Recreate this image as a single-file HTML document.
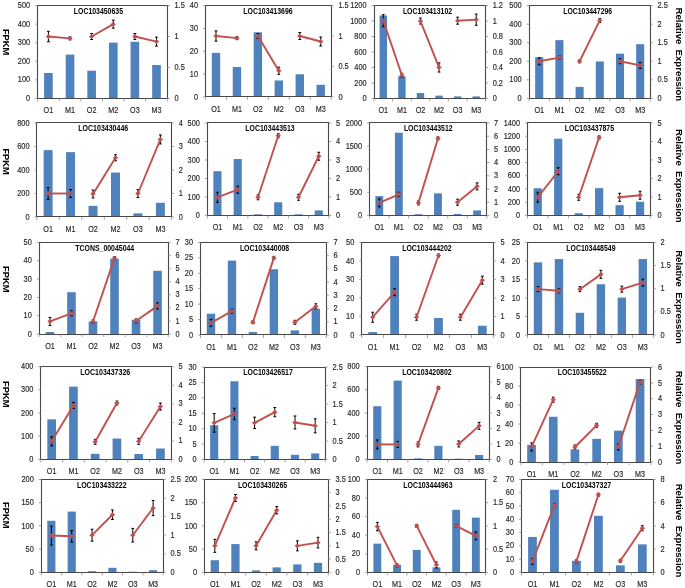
<!DOCTYPE html><html><head><meta charset="utf-8"><style>html,body{margin:0;padding:0;background:#fff;width:685px;height:588px;overflow:hidden}
svg{display:block;filter:blur(0.3px)}
text{font-family:"Liberation Sans",sans-serif;fill:#2a2a2a}
.t{font-size:8.6px;stroke:#2a2a2a;stroke-width:0.18px}
.x{font-size:8.9px;stroke:#2a2a2a;stroke-width:0.18px}
.ti{font-size:8.3px;font-weight:bold;fill:#000}
.yl{font-size:9.6px;font-weight:bold;fill:#000;white-space:pre}
</style></head><body><svg width="685" height="588" viewBox="0 0 685 588" shape-rendering="auto"><g><rect x="44.09" y="72.97" width="8.65" height="25.43" fill="#4f81bd"/><rect x="65.70" y="54.60" width="8.65" height="43.80" fill="#4f81bd"/><rect x="87.32" y="70.75" width="8.65" height="27.65" fill="#4f81bd"/><rect x="108.94" y="42.61" width="8.65" height="55.79" fill="#4f81bd"/><rect x="130.55" y="41.79" width="8.65" height="56.61" fill="#4f81bd"/><rect x="152.17" y="64.99" width="8.65" height="33.41" fill="#4f81bd"/><path d="M37.50 98.50V5.50H167.50V98.50Z" fill="none" stroke="#484848" stroke-width="1.1"/><path d="M35.10 98.40H37.60" stroke="#8c8c8c" stroke-width="0.8"/><text transform="translate(30.20 101.00) scale(0.86 1)" text-anchor="end" class="t">0</text><path d="M35.10 79.84H37.60" stroke="#8c8c8c" stroke-width="0.8"/><text transform="translate(30.20 82.44) scale(0.86 1)" text-anchor="end" class="t">100</text><path d="M35.10 61.28H37.60" stroke="#8c8c8c" stroke-width="0.8"/><text transform="translate(30.20 63.88) scale(0.86 1)" text-anchor="end" class="t">200</text><path d="M35.10 42.72H37.60" stroke="#8c8c8c" stroke-width="0.8"/><text transform="translate(30.20 45.32) scale(0.86 1)" text-anchor="end" class="t">300</text><path d="M35.10 24.16H37.60" stroke="#8c8c8c" stroke-width="0.8"/><text transform="translate(30.20 26.76) scale(0.86 1)" text-anchor="end" class="t">400</text><path d="M35.10 5.60H37.60" stroke="#8c8c8c" stroke-width="0.8"/><text transform="translate(30.20 8.20) scale(0.86 1)" text-anchor="end" class="t">500</text><path d="M167.30 98.40H169.80" stroke="#8c8c8c" stroke-width="0.8"/><text transform="translate(174.50 101.00) scale(0.86 1)" class="t">0</text><path d="M167.30 67.47H169.80" stroke="#8c8c8c" stroke-width="0.8"/><text transform="translate(174.50 70.07) scale(0.86 1)" class="t">0.5</text><path d="M167.30 36.53H169.80" stroke="#8c8c8c" stroke-width="0.8"/><text transform="translate(174.50 39.13) scale(0.86 1)" class="t">1</text><path d="M167.30 5.60H169.80" stroke="#8c8c8c" stroke-width="0.8"/><text transform="translate(174.50 8.20) scale(0.86 1)" class="t">1.5</text><path d="M37.60 98.40V101.40" stroke="#8c8c8c" stroke-width="0.8"/><path d="M59.22 98.40V101.40" stroke="#8c8c8c" stroke-width="0.8"/><path d="M80.83 98.40V101.40" stroke="#8c8c8c" stroke-width="0.8"/><path d="M102.45 98.40V101.40" stroke="#8c8c8c" stroke-width="0.8"/><path d="M124.07 98.40V101.40" stroke="#8c8c8c" stroke-width="0.8"/><path d="M145.68 98.40V101.40" stroke="#8c8c8c" stroke-width="0.8"/><path d="M167.30 98.40V101.40" stroke="#8c8c8c" stroke-width="0.8"/><text transform="translate(48.41 113.10) scale(0.81 1)" text-anchor="middle" class="x">O1</text><text transform="translate(70.03 113.10) scale(0.81 1)" text-anchor="middle" class="x">M1</text><text transform="translate(91.64 113.10) scale(0.81 1)" text-anchor="middle" class="x">O2</text><text transform="translate(113.26 113.10) scale(0.81 1)" text-anchor="middle" class="x">M2</text><text transform="translate(134.88 113.10) scale(0.81 1)" text-anchor="middle" class="x">O3</text><text transform="translate(156.49 113.10) scale(0.81 1)" text-anchor="middle" class="x">M3</text><text x="73.80" y="13.70" class="ti" textLength="49.20" lengthAdjust="spacingAndGlyphs">LOC103450635</text><path d="M48.41 31.33V41.73M47.01 31.33H49.81M47.01 41.73H49.81" stroke="#000" stroke-width="1"/><path d="M70.03 36.89V39.89M68.62 36.89H71.43M68.62 39.89H71.43" stroke="#000" stroke-width="1"/><path d="M91.64 33.53V39.53M90.24 33.53H93.04M90.24 39.53H93.04" stroke="#000" stroke-width="1"/><path d="M113.26 20.16V28.16M111.86 20.16H114.66M111.86 28.16H114.66" stroke="#000" stroke-width="1"/><path d="M134.88 33.53V39.53M133.48 33.53H136.28M133.48 39.53H136.28" stroke="#000" stroke-width="1"/><path d="M156.49 37.11V46.11M155.09 37.11H157.89M155.09 46.11H157.89" stroke="#000" stroke-width="1"/><path d="M48.41 36.53L70.03 38.39" stroke="#c0504d" stroke-width="1.9" fill="none"/><path d="M91.64 36.53L113.26 24.16" stroke="#c0504d" stroke-width="1.9" fill="none"/><path d="M134.88 36.53L156.49 41.61" stroke="#c0504d" stroke-width="1.9" fill="none"/><path d="M45.71 36.53L48.41 34.13L51.11 36.53L48.41 38.93Z" fill="#c0504d"/><path d="M67.33 38.39L70.03 35.99L72.73 38.39L70.03 40.79Z" fill="#c0504d"/><path d="M88.94 36.53L91.64 34.13L94.34 36.53L91.64 38.93Z" fill="#c0504d"/><path d="M110.56 24.16L113.26 21.76L115.96 24.16L113.26 26.56Z" fill="#c0504d"/><path d="M132.18 36.53L134.88 34.13L137.58 36.53L134.88 38.93Z" fill="#c0504d"/><path d="M153.79 41.61L156.49 39.21L159.19 41.61L156.49 44.01Z" fill="#c0504d"/></g><g><rect x="211.78" y="52.85" width="8.38" height="44.05" fill="#4f81bd"/><rect x="232.74" y="67.00" width="8.38" height="29.90" fill="#4f81bd"/><rect x="253.69" y="32.31" width="8.38" height="64.59" fill="#4f81bd"/><rect x="274.63" y="80.47" width="8.38" height="16.43" fill="#4f81bd"/><rect x="295.58" y="74.30" width="8.38" height="22.60" fill="#4f81bd"/><rect x="316.54" y="84.80" width="8.38" height="12.10" fill="#4f81bd"/><path d="M205.50 96.50V5.50H331.50V96.50Z" fill="none" stroke="#484848" stroke-width="1.1"/><path d="M203.00 96.90H205.50" stroke="#8c8c8c" stroke-width="0.8"/><text transform="translate(198.10 99.50) scale(0.86 1)" text-anchor="end" class="t">0</text><path d="M203.00 74.08H205.50" stroke="#8c8c8c" stroke-width="0.8"/><text transform="translate(198.10 76.67) scale(0.86 1)" text-anchor="end" class="t">10</text><path d="M203.00 51.25H205.50" stroke="#8c8c8c" stroke-width="0.8"/><text transform="translate(198.10 53.85) scale(0.86 1)" text-anchor="end" class="t">20</text><path d="M203.00 28.42H205.50" stroke="#8c8c8c" stroke-width="0.8"/><text transform="translate(198.10 31.02) scale(0.86 1)" text-anchor="end" class="t">30</text><path d="M203.00 5.60H205.50" stroke="#8c8c8c" stroke-width="0.8"/><text transform="translate(198.10 8.20) scale(0.86 1)" text-anchor="end" class="t">40</text><path d="M331.20 96.90H333.70" stroke="#8c8c8c" stroke-width="0.8"/><text transform="translate(338.40 99.50) scale(0.86 1)" class="t">0</text><path d="M331.20 66.47H333.70" stroke="#8c8c8c" stroke-width="0.8"/><text transform="translate(338.40 69.07) scale(0.86 1)" class="t">0.5</text><path d="M331.20 36.03H333.70" stroke="#8c8c8c" stroke-width="0.8"/><text transform="translate(338.40 38.63) scale(0.86 1)" class="t">1</text><path d="M331.20 5.60H333.70" stroke="#8c8c8c" stroke-width="0.8"/><text transform="translate(338.40 8.20) scale(0.86 1)" class="t">1.5</text><path d="M205.50 96.90V99.90" stroke="#8c8c8c" stroke-width="0.8"/><path d="M226.45 96.90V99.90" stroke="#8c8c8c" stroke-width="0.8"/><path d="M247.40 96.90V99.90" stroke="#8c8c8c" stroke-width="0.8"/><path d="M268.35 96.90V99.90" stroke="#8c8c8c" stroke-width="0.8"/><path d="M289.30 96.90V99.90" stroke="#8c8c8c" stroke-width="0.8"/><path d="M310.25 96.90V99.90" stroke="#8c8c8c" stroke-width="0.8"/><path d="M331.20 96.90V99.90" stroke="#8c8c8c" stroke-width="0.8"/><text transform="translate(215.97 111.60) scale(0.81 1)" text-anchor="middle" class="x">O1</text><text transform="translate(236.93 111.60) scale(0.81 1)" text-anchor="middle" class="x">M1</text><text transform="translate(257.88 111.60) scale(0.81 1)" text-anchor="middle" class="x">O2</text><text transform="translate(278.82 111.60) scale(0.81 1)" text-anchor="middle" class="x">M2</text><text transform="translate(299.77 111.60) scale(0.81 1)" text-anchor="middle" class="x">O3</text><text transform="translate(320.73 111.60) scale(0.81 1)" text-anchor="middle" class="x">M3</text><text x="243.30" y="13.70" class="ti" textLength="49.30" lengthAdjust="spacingAndGlyphs">LOC103413696</text><path d="M215.97 30.83V41.23M214.57 30.83H217.38M214.57 41.23H217.38" stroke="#000" stroke-width="1"/><path d="M236.93 36.60V39.60M235.53 36.60H238.33M235.53 39.60H238.33" stroke="#000" stroke-width="1"/><path d="M257.88 33.53V38.53M256.48 33.53H259.27M256.48 38.53H259.27" stroke="#000" stroke-width="1"/><path d="M278.82 67.13V74.33M277.43 67.13H280.22M277.43 74.33H280.22" stroke="#000" stroke-width="1"/><path d="M299.77 32.53V39.53M298.38 32.53H301.17M298.38 39.53H301.17" stroke="#000" stroke-width="1"/><path d="M320.73 37.01V46.01M319.33 37.01H322.12M319.33 46.01H322.12" stroke="#000" stroke-width="1"/><path d="M215.97 36.03L236.93 38.10" stroke="#c0504d" stroke-width="1.9" fill="none"/><path d="M257.88 36.03L278.82 70.73" stroke="#c0504d" stroke-width="1.9" fill="none"/><path d="M299.77 36.03L320.73 41.51" stroke="#c0504d" stroke-width="1.9" fill="none"/><path d="M213.28 36.03L215.97 33.63L218.67 36.03L215.97 38.43Z" fill="#c0504d"/><path d="M234.23 38.10L236.93 35.70L239.62 38.10L236.93 40.50Z" fill="#c0504d"/><path d="M255.18 36.03L257.88 33.63L260.57 36.03L257.88 38.43Z" fill="#c0504d"/><path d="M276.12 70.73L278.82 68.33L281.52 70.73L278.82 73.13Z" fill="#c0504d"/><path d="M297.07 36.03L299.77 33.63L302.47 36.03L299.77 38.43Z" fill="#c0504d"/><path d="M318.03 41.51L320.73 39.11L323.43 41.51L320.73 43.91Z" fill="#c0504d"/></g><g><rect x="379.58" y="15.50" width="7.43" height="82.90" fill="#4f81bd"/><rect x="398.16" y="76.28" width="7.43" height="22.12" fill="#4f81bd"/><rect x="416.74" y="92.99" width="7.43" height="5.41" fill="#4f81bd"/><rect x="435.32" y="95.62" width="7.43" height="2.78" fill="#4f81bd"/><rect x="453.91" y="96.39" width="7.43" height="2.01" fill="#4f81bd"/><rect x="472.49" y="96.39" width="7.43" height="2.01" fill="#4f81bd"/><path d="M374.50 98.50V5.50H485.50V98.50Z" fill="none" stroke="#484848" stroke-width="1.1"/><path d="M371.50 98.40H374.00" stroke="#8c8c8c" stroke-width="0.8"/><text transform="translate(366.60 101.00) scale(0.86 1)" text-anchor="end" class="t">0</text><path d="M371.50 82.93H374.00" stroke="#8c8c8c" stroke-width="0.8"/><text transform="translate(366.60 85.53) scale(0.86 1)" text-anchor="end" class="t">200</text><path d="M371.50 67.47H374.00" stroke="#8c8c8c" stroke-width="0.8"/><text transform="translate(366.60 70.07) scale(0.86 1)" text-anchor="end" class="t">400</text><path d="M371.50 52.00H374.00" stroke="#8c8c8c" stroke-width="0.8"/><text transform="translate(366.60 54.60) scale(0.86 1)" text-anchor="end" class="t">600</text><path d="M371.50 36.53H374.00" stroke="#8c8c8c" stroke-width="0.8"/><text transform="translate(366.60 39.13) scale(0.86 1)" text-anchor="end" class="t">800</text><path d="M371.50 21.07H374.00" stroke="#8c8c8c" stroke-width="0.8"/><text transform="translate(366.60 23.67) scale(0.86 1)" text-anchor="end" class="t">1000</text><path d="M371.50 5.60H374.00" stroke="#8c8c8c" stroke-width="0.8"/><text transform="translate(366.60 8.20) scale(0.86 1)" text-anchor="end" class="t">1200</text><path d="M485.50 98.40H488.00" stroke="#8c8c8c" stroke-width="0.8"/><text transform="translate(492.70 101.00) scale(0.86 1)" class="t">0</text><path d="M485.50 82.93H488.00" stroke="#8c8c8c" stroke-width="0.8"/><text transform="translate(492.70 85.53) scale(0.86 1)" class="t">0.2</text><path d="M485.50 67.47H488.00" stroke="#8c8c8c" stroke-width="0.8"/><text transform="translate(492.70 70.07) scale(0.86 1)" class="t">0.4</text><path d="M485.50 52.00H488.00" stroke="#8c8c8c" stroke-width="0.8"/><text transform="translate(492.70 54.60) scale(0.86 1)" class="t">0.6</text><path d="M485.50 36.53H488.00" stroke="#8c8c8c" stroke-width="0.8"/><text transform="translate(492.70 39.13) scale(0.86 1)" class="t">0.8</text><path d="M485.50 21.07H488.00" stroke="#8c8c8c" stroke-width="0.8"/><text transform="translate(492.70 23.67) scale(0.86 1)" class="t">1</text><path d="M485.50 5.60H488.00" stroke="#8c8c8c" stroke-width="0.8"/><text transform="translate(492.70 8.20) scale(0.86 1)" class="t">1.2</text><path d="M374.00 98.40V101.40" stroke="#8c8c8c" stroke-width="0.8"/><path d="M392.58 98.40V101.40" stroke="#8c8c8c" stroke-width="0.8"/><path d="M411.17 98.40V101.40" stroke="#8c8c8c" stroke-width="0.8"/><path d="M429.75 98.40V101.40" stroke="#8c8c8c" stroke-width="0.8"/><path d="M448.33 98.40V101.40" stroke="#8c8c8c" stroke-width="0.8"/><path d="M466.92 98.40V101.40" stroke="#8c8c8c" stroke-width="0.8"/><path d="M485.50 98.40V101.40" stroke="#8c8c8c" stroke-width="0.8"/><text transform="translate(383.29 113.10) scale(0.81 1)" text-anchor="middle" class="x">O1</text><text transform="translate(401.88 113.10) scale(0.81 1)" text-anchor="middle" class="x">M1</text><text transform="translate(420.46 113.10) scale(0.81 1)" text-anchor="middle" class="x">O2</text><text transform="translate(439.04 113.10) scale(0.81 1)" text-anchor="middle" class="x">M2</text><text transform="translate(457.62 113.10) scale(0.81 1)" text-anchor="middle" class="x">O3</text><text transform="translate(476.21 113.10) scale(0.81 1)" text-anchor="middle" class="x">M3</text><text x="402.90" y="13.70" class="ti" textLength="49.20" lengthAdjust="spacingAndGlyphs">LOC103413102</text><path d="M383.29 14.68V26.68M381.89 14.68H384.69M381.89 26.68H384.69" stroke="#000" stroke-width="1"/><path d="M401.88 73.28V77.28M400.48 73.28H403.27M400.48 77.28H403.27" stroke="#000" stroke-width="1"/><path d="M420.46 18.07V24.07M419.06 18.07H421.86M419.06 24.07H421.86" stroke="#000" stroke-width="1"/><path d="M439.04 62.87V72.07M437.64 62.87H440.44M437.64 72.07H440.44" stroke="#000" stroke-width="1"/><path d="M457.62 17.18V24.18M456.23 17.18H459.02M456.23 24.18H459.02" stroke="#000" stroke-width="1"/><path d="M476.21 14.07V25.27M474.81 14.07H477.61M474.81 25.27H477.61" stroke="#000" stroke-width="1"/><path d="M383.29 20.68L401.88 75.28" stroke="#c0504d" stroke-width="1.9" fill="none"/><path d="M420.46 21.07L439.04 67.47" stroke="#c0504d" stroke-width="1.9" fill="none"/><path d="M457.62 20.68L476.21 19.67" stroke="#c0504d" stroke-width="1.9" fill="none"/><path d="M380.59 20.68L383.29 18.28L385.99 20.68L383.29 23.08Z" fill="#c0504d"/><path d="M399.18 75.28L401.88 72.88L404.57 75.28L401.88 77.68Z" fill="#c0504d"/><path d="M417.76 21.07L420.46 18.67L423.16 21.07L420.46 23.47Z" fill="#c0504d"/><path d="M436.34 67.47L439.04 65.07L441.74 67.47L439.04 69.87Z" fill="#c0504d"/><path d="M454.93 20.68L457.62 18.28L460.32 20.68L457.62 23.08Z" fill="#c0504d"/><path d="M473.51 19.67L476.21 17.27L478.91 19.67L476.21 22.07Z" fill="#c0504d"/></g><g><rect x="535.16" y="57.20" width="8.08" height="41.20" fill="#4f81bd"/><rect x="555.36" y="40.12" width="8.08" height="58.28" fill="#4f81bd"/><rect x="575.56" y="86.89" width="8.08" height="11.51" fill="#4f81bd"/><rect x="595.76" y="61.47" width="8.08" height="36.93" fill="#4f81bd"/><rect x="615.96" y="53.67" width="8.08" height="44.73" fill="#4f81bd"/><rect x="636.16" y="44.20" width="8.08" height="54.20" fill="#4f81bd"/><path d="M529.50 98.50V5.50H650.50V98.50Z" fill="none" stroke="#484848" stroke-width="1.1"/><path d="M526.60 98.40H529.10" stroke="#8c8c8c" stroke-width="0.8"/><text transform="translate(521.70 101.00) scale(0.86 1)" text-anchor="end" class="t">0</text><path d="M526.60 79.84H529.10" stroke="#8c8c8c" stroke-width="0.8"/><text transform="translate(521.70 82.44) scale(0.86 1)" text-anchor="end" class="t">100</text><path d="M526.60 61.28H529.10" stroke="#8c8c8c" stroke-width="0.8"/><text transform="translate(521.70 63.88) scale(0.86 1)" text-anchor="end" class="t">200</text><path d="M526.60 42.72H529.10" stroke="#8c8c8c" stroke-width="0.8"/><text transform="translate(521.70 45.32) scale(0.86 1)" text-anchor="end" class="t">300</text><path d="M526.60 24.16H529.10" stroke="#8c8c8c" stroke-width="0.8"/><text transform="translate(521.70 26.76) scale(0.86 1)" text-anchor="end" class="t">400</text><path d="M526.60 5.60H529.10" stroke="#8c8c8c" stroke-width="0.8"/><text transform="translate(521.70 8.20) scale(0.86 1)" text-anchor="end" class="t">500</text><path d="M650.30 98.40H652.80" stroke="#8c8c8c" stroke-width="0.8"/><text transform="translate(657.50 101.00) scale(0.86 1)" class="t">0</text><path d="M650.30 79.84H652.80" stroke="#8c8c8c" stroke-width="0.8"/><text transform="translate(657.50 82.44) scale(0.86 1)" class="t">0.5</text><path d="M650.30 61.28H652.80" stroke="#8c8c8c" stroke-width="0.8"/><text transform="translate(657.50 63.88) scale(0.86 1)" class="t">1</text><path d="M650.30 42.72H652.80" stroke="#8c8c8c" stroke-width="0.8"/><text transform="translate(657.50 45.32) scale(0.86 1)" class="t">1.5</text><path d="M650.30 24.16H652.80" stroke="#8c8c8c" stroke-width="0.8"/><text transform="translate(657.50 26.76) scale(0.86 1)" class="t">2</text><path d="M650.30 5.60H652.80" stroke="#8c8c8c" stroke-width="0.8"/><text transform="translate(657.50 8.20) scale(0.86 1)" class="t">2.5</text><path d="M529.10 98.40V101.40" stroke="#8c8c8c" stroke-width="0.8"/><path d="M549.30 98.40V101.40" stroke="#8c8c8c" stroke-width="0.8"/><path d="M569.50 98.40V101.40" stroke="#8c8c8c" stroke-width="0.8"/><path d="M589.70 98.40V101.40" stroke="#8c8c8c" stroke-width="0.8"/><path d="M609.90 98.40V101.40" stroke="#8c8c8c" stroke-width="0.8"/><path d="M630.10 98.40V101.40" stroke="#8c8c8c" stroke-width="0.8"/><path d="M650.30 98.40V101.40" stroke="#8c8c8c" stroke-width="0.8"/><text transform="translate(539.20 113.10) scale(0.81 1)" text-anchor="middle" class="x">O1</text><text transform="translate(559.40 113.10) scale(0.81 1)" text-anchor="middle" class="x">M1</text><text transform="translate(579.60 113.10) scale(0.81 1)" text-anchor="middle" class="x">O2</text><text transform="translate(599.80 113.10) scale(0.81 1)" text-anchor="middle" class="x">M2</text><text transform="translate(620.00 113.10) scale(0.81 1)" text-anchor="middle" class="x">O3</text><text transform="translate(640.20 113.10) scale(0.81 1)" text-anchor="middle" class="x">M3</text><text x="563.30" y="13.70" class="ti" textLength="48.80" lengthAdjust="spacingAndGlyphs">LOC103447296</text><path d="M539.20 57.78V64.78M537.80 57.78H540.60M537.80 64.78H540.60" stroke="#000" stroke-width="1"/><path d="M559.40 56.07V59.07M558.00 56.07H560.80M558.00 59.07H560.80" stroke="#000" stroke-width="1"/><path d="M579.60 59.78V62.78M578.20 59.78H581.00M578.20 62.78H581.00" stroke="#000" stroke-width="1"/><path d="M599.80 18.45V22.45M598.40 18.45H601.20M598.40 22.45H601.20" stroke="#000" stroke-width="1"/><path d="M620.00 58.78V63.78M618.60 58.78H621.40M618.60 63.78H621.40" stroke="#000" stroke-width="1"/><path d="M640.20 62.36V68.36M638.80 62.36H641.60M638.80 68.36H641.60" stroke="#000" stroke-width="1"/><path d="M539.20 61.28L559.40 57.57" stroke="#c0504d" stroke-width="1.9" fill="none"/><path d="M579.60 61.28L599.80 20.45" stroke="#c0504d" stroke-width="1.9" fill="none"/><path d="M620.00 61.28L640.20 65.36" stroke="#c0504d" stroke-width="1.9" fill="none"/><path d="M536.50 61.28L539.20 58.88L541.90 61.28L539.20 63.68Z" fill="#c0504d"/><path d="M556.70 57.57L559.40 55.17L562.10 57.57L559.40 59.97Z" fill="#c0504d"/><path d="M576.90 61.28L579.60 58.88L582.30 61.28L579.60 63.68Z" fill="#c0504d"/><path d="M597.10 20.45L599.80 18.05L602.50 20.45L599.80 22.85Z" fill="#c0504d"/><path d="M617.30 61.28L620.00 58.88L622.70 61.28L620.00 63.68Z" fill="#c0504d"/><path d="M637.50 65.36L640.20 62.96L642.90 65.36L640.20 67.76Z" fill="#c0504d"/></g><g><rect x="43.63" y="150.14" width="8.98" height="66.86" fill="#4f81bd"/><rect x="66.08" y="152.14" width="8.98" height="64.86" fill="#4f81bd"/><rect x="88.54" y="205.84" width="8.98" height="11.16" fill="#4f81bd"/><rect x="110.98" y="172.59" width="8.98" height="44.41" fill="#4f81bd"/><rect x="133.43" y="213.36" width="8.98" height="3.64" fill="#4f81bd"/><rect x="155.88" y="202.78" width="8.98" height="14.22" fill="#4f81bd"/><path d="M36.50 216.50V122.50H171.50V216.50Z" fill="none" stroke="#484848" stroke-width="1.1"/><path d="M34.40 217.00H36.90" stroke="#8c8c8c" stroke-width="0.8"/><text transform="translate(29.50 219.60) scale(0.86 1)" text-anchor="end" class="t">0</text><path d="M34.40 193.50H36.90" stroke="#8c8c8c" stroke-width="0.8"/><text transform="translate(29.50 196.10) scale(0.86 1)" text-anchor="end" class="t">200</text><path d="M34.40 170.00H36.90" stroke="#8c8c8c" stroke-width="0.8"/><text transform="translate(29.50 172.60) scale(0.86 1)" text-anchor="end" class="t">400</text><path d="M34.40 146.50H36.90" stroke="#8c8c8c" stroke-width="0.8"/><text transform="translate(29.50 149.10) scale(0.86 1)" text-anchor="end" class="t">600</text><path d="M34.40 123.00H36.90" stroke="#8c8c8c" stroke-width="0.8"/><text transform="translate(29.50 125.60) scale(0.86 1)" text-anchor="end" class="t">800</text><path d="M171.60 217.00H174.10" stroke="#8c8c8c" stroke-width="0.8"/><text transform="translate(178.80 219.60) scale(0.86 1)" class="t">0</text><path d="M171.60 193.50H174.10" stroke="#8c8c8c" stroke-width="0.8"/><text transform="translate(178.80 196.10) scale(0.86 1)" class="t">1</text><path d="M171.60 170.00H174.10" stroke="#8c8c8c" stroke-width="0.8"/><text transform="translate(178.80 172.60) scale(0.86 1)" class="t">2</text><path d="M171.60 146.50H174.10" stroke="#8c8c8c" stroke-width="0.8"/><text transform="translate(178.80 149.10) scale(0.86 1)" class="t">3</text><path d="M171.60 123.00H174.10" stroke="#8c8c8c" stroke-width="0.8"/><text transform="translate(178.80 125.60) scale(0.86 1)" class="t">4</text><path d="M36.90 217.00V220.00" stroke="#8c8c8c" stroke-width="0.8"/><path d="M59.35 217.00V220.00" stroke="#8c8c8c" stroke-width="0.8"/><path d="M81.80 217.00V220.00" stroke="#8c8c8c" stroke-width="0.8"/><path d="M104.25 217.00V220.00" stroke="#8c8c8c" stroke-width="0.8"/><path d="M126.70 217.00V220.00" stroke="#8c8c8c" stroke-width="0.8"/><path d="M149.15 217.00V220.00" stroke="#8c8c8c" stroke-width="0.8"/><path d="M171.60 217.00V220.00" stroke="#8c8c8c" stroke-width="0.8"/><text transform="translate(48.12 231.70) scale(0.81 1)" text-anchor="middle" class="x">O1</text><text transform="translate(70.57 231.70) scale(0.81 1)" text-anchor="middle" class="x">M1</text><text transform="translate(93.03 231.70) scale(0.81 1)" text-anchor="middle" class="x">O2</text><text transform="translate(115.47 231.70) scale(0.81 1)" text-anchor="middle" class="x">M2</text><text transform="translate(137.92 231.70) scale(0.81 1)" text-anchor="middle" class="x">O3</text><text transform="translate(160.38 231.70) scale(0.81 1)" text-anchor="middle" class="x">M3</text><text x="78.30" y="131.10" class="ti" textLength="49.90" lengthAdjust="spacingAndGlyphs">LOC103430446</text><path d="M48.12 187.50V199.50M46.73 187.50H49.52M46.73 199.50H49.52" stroke="#000" stroke-width="1"/><path d="M70.57 189.50V197.50M69.17 189.50H71.97M69.17 197.50H71.97" stroke="#000" stroke-width="1"/><path d="M93.03 189.97V197.97M91.62 189.97H94.43M91.62 197.97H94.43" stroke="#000" stroke-width="1"/><path d="M115.47 154.78V160.78M114.07 154.78H116.88M114.07 160.78H116.88" stroke="#000" stroke-width="1"/><path d="M137.92 189.50V197.50M136.52 189.50H139.32M136.52 197.50H139.32" stroke="#000" stroke-width="1"/><path d="M160.38 134.95V143.95M158.97 134.95H161.78M158.97 143.95H161.78" stroke="#000" stroke-width="1"/><path d="M48.12 193.50L70.57 193.50" stroke="#c0504d" stroke-width="1.9" fill="none"/><path d="M93.03 193.97L115.47 157.78" stroke="#c0504d" stroke-width="1.9" fill="none"/><path d="M137.92 193.50L160.38 139.45" stroke="#c0504d" stroke-width="1.9" fill="none"/><path d="M45.42 193.50L48.12 191.10L50.83 193.50L48.12 195.90Z" fill="#c0504d"/><path d="M67.87 193.50L70.57 191.10L73.27 193.50L70.57 195.90Z" fill="#c0504d"/><path d="M90.33 193.97L93.03 191.57L95.73 193.97L93.03 196.37Z" fill="#c0504d"/><path d="M112.77 157.78L115.47 155.38L118.17 157.78L115.47 160.18Z" fill="#c0504d"/><path d="M135.22 193.50L137.92 191.10L140.62 193.50L137.92 195.90Z" fill="#c0504d"/><path d="M157.68 139.45L160.38 137.05L163.07 139.45L160.38 141.85Z" fill="#c0504d"/></g><g><rect x="213.38" y="171.23" width="8.11" height="44.17" fill="#4f81bd"/><rect x="233.65" y="159.04" width="8.11" height="56.36" fill="#4f81bd"/><rect x="253.91" y="214.29" width="8.11" height="1.11" fill="#4f81bd"/><rect x="274.18" y="202.28" width="8.11" height="13.12" fill="#4f81bd"/><rect x="294.45" y="214.29" width="8.11" height="1.11" fill="#4f81bd"/><rect x="314.71" y="210.41" width="8.11" height="4.99" fill="#4f81bd"/><path d="M207.50 215.50V122.50H328.50V215.50Z" fill="none" stroke="#484848" stroke-width="1.1"/><path d="M204.80 215.40H207.30" stroke="#8c8c8c" stroke-width="0.8"/><text transform="translate(199.90 218.00) scale(0.86 1)" text-anchor="end" class="t">0</text><path d="M204.80 196.92H207.30" stroke="#8c8c8c" stroke-width="0.8"/><text transform="translate(199.90 199.52) scale(0.86 1)" text-anchor="end" class="t">100</text><path d="M204.80 178.44H207.30" stroke="#8c8c8c" stroke-width="0.8"/><text transform="translate(199.90 181.04) scale(0.86 1)" text-anchor="end" class="t">200</text><path d="M204.80 159.96H207.30" stroke="#8c8c8c" stroke-width="0.8"/><text transform="translate(199.90 162.56) scale(0.86 1)" text-anchor="end" class="t">300</text><path d="M204.80 141.48H207.30" stroke="#8c8c8c" stroke-width="0.8"/><text transform="translate(199.90 144.08) scale(0.86 1)" text-anchor="end" class="t">400</text><path d="M204.80 123.00H207.30" stroke="#8c8c8c" stroke-width="0.8"/><text transform="translate(199.90 125.60) scale(0.86 1)" text-anchor="end" class="t">500</text><path d="M328.90 215.40H331.40" stroke="#8c8c8c" stroke-width="0.8"/><text transform="translate(336.10 218.00) scale(0.86 1)" class="t">0</text><path d="M328.90 196.92H331.40" stroke="#8c8c8c" stroke-width="0.8"/><text transform="translate(336.10 199.52) scale(0.86 1)" class="t">1</text><path d="M328.90 178.44H331.40" stroke="#8c8c8c" stroke-width="0.8"/><text transform="translate(336.10 181.04) scale(0.86 1)" class="t">2</text><path d="M328.90 159.96H331.40" stroke="#8c8c8c" stroke-width="0.8"/><text transform="translate(336.10 162.56) scale(0.86 1)" class="t">3</text><path d="M328.90 141.48H331.40" stroke="#8c8c8c" stroke-width="0.8"/><text transform="translate(336.10 144.08) scale(0.86 1)" class="t">4</text><path d="M328.90 123.00H331.40" stroke="#8c8c8c" stroke-width="0.8"/><text transform="translate(336.10 125.60) scale(0.86 1)" class="t">5</text><path d="M207.30 215.40V218.40" stroke="#8c8c8c" stroke-width="0.8"/><path d="M227.57 215.40V218.40" stroke="#8c8c8c" stroke-width="0.8"/><path d="M247.83 215.40V218.40" stroke="#8c8c8c" stroke-width="0.8"/><path d="M268.10 215.40V218.40" stroke="#8c8c8c" stroke-width="0.8"/><path d="M288.37 215.40V218.40" stroke="#8c8c8c" stroke-width="0.8"/><path d="M308.63 215.40V218.40" stroke="#8c8c8c" stroke-width="0.8"/><path d="M328.90 215.40V218.40" stroke="#8c8c8c" stroke-width="0.8"/><text transform="translate(217.43 230.10) scale(0.81 1)" text-anchor="middle" class="x">O1</text><text transform="translate(237.70 230.10) scale(0.81 1)" text-anchor="middle" class="x">M1</text><text transform="translate(257.97 230.10) scale(0.81 1)" text-anchor="middle" class="x">O2</text><text transform="translate(278.23 230.10) scale(0.81 1)" text-anchor="middle" class="x">M2</text><text transform="translate(298.50 230.10) scale(0.81 1)" text-anchor="middle" class="x">O3</text><text transform="translate(318.77 230.10) scale(0.81 1)" text-anchor="middle" class="x">M3</text><text x="245.30" y="131.10" class="ti" textLength="49.30" lengthAdjust="spacingAndGlyphs">LOC103443513</text><path d="M217.43 192.29V202.29M216.03 192.29H218.83M216.03 202.29H218.83" stroke="#000" stroke-width="1"/><path d="M237.70 186.21V193.21M236.30 186.21H239.10M236.30 193.21H239.10" stroke="#000" stroke-width="1"/><path d="M257.97 194.79V199.79M256.57 194.79H259.37M256.57 199.79H259.37" stroke="#000" stroke-width="1"/><path d="M278.23 133.75V137.75M276.83 133.75H279.63M276.83 137.75H279.63" stroke="#000" stroke-width="1"/><path d="M298.50 194.29V200.29M297.10 194.29H299.90M297.10 200.29H299.90" stroke="#000" stroke-width="1"/><path d="M318.77 152.26V160.26M317.37 152.26H320.17M317.37 160.26H320.17" stroke="#000" stroke-width="1"/><path d="M217.43 197.29L237.70 189.71" stroke="#c0504d" stroke-width="1.9" fill="none"/><path d="M257.97 197.29L278.23 135.75" stroke="#c0504d" stroke-width="1.9" fill="none"/><path d="M298.50 197.29L318.77 156.26" stroke="#c0504d" stroke-width="1.9" fill="none"/><path d="M214.73 197.29L217.43 194.89L220.13 197.29L217.43 199.69Z" fill="#c0504d"/><path d="M235.00 189.71L237.70 187.31L240.40 189.71L237.70 192.11Z" fill="#c0504d"/><path d="M255.27 197.29L257.97 194.89L260.67 197.29L257.97 199.69Z" fill="#c0504d"/><path d="M275.53 135.75L278.23 133.35L280.93 135.75L278.23 138.15Z" fill="#c0504d"/><path d="M295.80 197.29L298.50 194.89L301.20 197.29L298.50 199.69Z" fill="#c0504d"/><path d="M316.07 156.26L318.77 153.86L321.47 156.26L318.77 158.66Z" fill="#c0504d"/></g><g><rect x="375.37" y="196.09" width="7.83" height="19.31" fill="#4f81bd"/><rect x="394.94" y="132.70" width="7.83" height="82.70" fill="#4f81bd"/><rect x="414.50" y="214.20" width="7.83" height="1.20" fill="#4f81bd"/><rect x="434.07" y="193.32" width="7.83" height="22.08" fill="#4f81bd"/><rect x="453.64" y="214.01" width="7.83" height="1.39" fill="#4f81bd"/><rect x="473.20" y="210.41" width="7.83" height="4.99" fill="#4f81bd"/><path d="M369.50 215.50V122.50H486.50V215.50Z" fill="none" stroke="#484848" stroke-width="1.1"/><path d="M367.00 215.40H369.50" stroke="#8c8c8c" stroke-width="0.8"/><text transform="translate(362.10 218.00) scale(0.86 1)" text-anchor="end" class="t">0</text><path d="M367.00 192.30H369.50" stroke="#8c8c8c" stroke-width="0.8"/><text transform="translate(362.10 194.90) scale(0.86 1)" text-anchor="end" class="t">500</text><path d="M367.00 169.20H369.50" stroke="#8c8c8c" stroke-width="0.8"/><text transform="translate(362.10 171.80) scale(0.86 1)" text-anchor="end" class="t">1000</text><path d="M367.00 146.10H369.50" stroke="#8c8c8c" stroke-width="0.8"/><text transform="translate(362.10 148.70) scale(0.86 1)" text-anchor="end" class="t">1500</text><path d="M367.00 123.00H369.50" stroke="#8c8c8c" stroke-width="0.8"/><text transform="translate(362.10 125.60) scale(0.86 1)" text-anchor="end" class="t">2000</text><path d="M486.90 215.40H489.40" stroke="#8c8c8c" stroke-width="0.8"/><text transform="translate(494.10 218.00) scale(0.86 1)" class="t">0</text><path d="M486.90 202.20H489.40" stroke="#8c8c8c" stroke-width="0.8"/><text transform="translate(494.10 204.80) scale(0.86 1)" class="t">1</text><path d="M486.90 189.00H489.40" stroke="#8c8c8c" stroke-width="0.8"/><text transform="translate(494.10 191.60) scale(0.86 1)" class="t">2</text><path d="M486.90 175.80H489.40" stroke="#8c8c8c" stroke-width="0.8"/><text transform="translate(494.10 178.40) scale(0.86 1)" class="t">3</text><path d="M486.90 162.60H489.40" stroke="#8c8c8c" stroke-width="0.8"/><text transform="translate(494.10 165.20) scale(0.86 1)" class="t">4</text><path d="M486.90 149.40H489.40" stroke="#8c8c8c" stroke-width="0.8"/><text transform="translate(494.10 152.00) scale(0.86 1)" class="t">5</text><path d="M486.90 136.20H489.40" stroke="#8c8c8c" stroke-width="0.8"/><text transform="translate(494.10 138.80) scale(0.86 1)" class="t">6</text><path d="M486.90 123.00H489.40" stroke="#8c8c8c" stroke-width="0.8"/><text transform="translate(494.10 125.60) scale(0.86 1)" class="t">7</text><path d="M369.50 215.40V218.40" stroke="#8c8c8c" stroke-width="0.8"/><path d="M389.07 215.40V218.40" stroke="#8c8c8c" stroke-width="0.8"/><path d="M408.63 215.40V218.40" stroke="#8c8c8c" stroke-width="0.8"/><path d="M428.20 215.40V218.40" stroke="#8c8c8c" stroke-width="0.8"/><path d="M447.77 215.40V218.40" stroke="#8c8c8c" stroke-width="0.8"/><path d="M467.33 215.40V218.40" stroke="#8c8c8c" stroke-width="0.8"/><path d="M486.90 215.40V218.40" stroke="#8c8c8c" stroke-width="0.8"/><text transform="translate(379.28 230.10) scale(0.81 1)" text-anchor="middle" class="x">O1</text><text transform="translate(398.85 230.10) scale(0.81 1)" text-anchor="middle" class="x">M1</text><text transform="translate(418.42 230.10) scale(0.81 1)" text-anchor="middle" class="x">O2</text><text transform="translate(437.98 230.10) scale(0.81 1)" text-anchor="middle" class="x">M2</text><text transform="translate(457.55 230.10) scale(0.81 1)" text-anchor="middle" class="x">O3</text><text transform="translate(477.12 230.10) scale(0.81 1)" text-anchor="middle" class="x">M3</text><text x="403.90" y="131.10" class="ti" textLength="48.60" lengthAdjust="spacingAndGlyphs">LOC103443512</text><path d="M379.28 198.86V206.86M377.88 198.86H380.68M377.88 206.86H380.68" stroke="#000" stroke-width="1"/><path d="M398.85 192.28V196.28M397.45 192.28H400.25M397.45 196.28H400.25" stroke="#000" stroke-width="1"/><path d="M418.42 200.86V204.86M417.02 200.86H419.82M417.02 204.86H419.82" stroke="#000" stroke-width="1"/><path d="M437.98 136.94V139.94M436.58 136.94H439.38M436.58 139.94H439.38" stroke="#000" stroke-width="1"/><path d="M457.55 199.20V205.20M456.15 199.20H458.95M456.15 205.20H458.95" stroke="#000" stroke-width="1"/><path d="M477.12 182.86V189.86M475.72 182.86H478.52M475.72 189.86H478.52" stroke="#000" stroke-width="1"/><path d="M379.28 202.86L398.85 194.28" stroke="#c0504d" stroke-width="1.9" fill="none"/><path d="M418.42 202.86L437.98 138.44" stroke="#c0504d" stroke-width="1.9" fill="none"/><path d="M457.55 202.20L477.12 186.36" stroke="#c0504d" stroke-width="1.9" fill="none"/><path d="M376.58 202.86L379.28 200.46L381.98 202.86L379.28 205.26Z" fill="#c0504d"/><path d="M396.15 194.28L398.85 191.88L401.55 194.28L398.85 196.68Z" fill="#c0504d"/><path d="M415.72 202.86L418.42 200.46L421.12 202.86L418.42 205.26Z" fill="#c0504d"/><path d="M435.28 138.44L437.98 136.04L440.68 138.44L437.98 140.84Z" fill="#c0504d"/><path d="M454.85 202.20L457.55 199.80L460.25 202.20L457.55 204.60Z" fill="#c0504d"/><path d="M474.42 186.36L477.12 183.96L479.82 186.36L477.12 188.76Z" fill="#c0504d"/></g><g><rect x="533.64" y="188.27" width="8.19" height="27.13" fill="#4f81bd"/><rect x="554.11" y="138.71" width="8.19" height="76.69" fill="#4f81bd"/><rect x="574.57" y="213.22" width="8.19" height="2.18" fill="#4f81bd"/><rect x="595.04" y="188.14" width="8.19" height="27.26" fill="#4f81bd"/><rect x="615.51" y="205.17" width="8.19" height="10.23" fill="#4f81bd"/><rect x="635.97" y="201.74" width="8.19" height="13.66" fill="#4f81bd"/><path d="M527.50 215.50V122.50H650.50V215.50Z" fill="none" stroke="#484848" stroke-width="1.1"/><path d="M525.00 215.40H527.50" stroke="#8c8c8c" stroke-width="0.8"/><text transform="translate(520.10 218.00) scale(0.86 1)" text-anchor="end" class="t">0</text><path d="M525.00 202.20H527.50" stroke="#8c8c8c" stroke-width="0.8"/><text transform="translate(520.10 204.80) scale(0.86 1)" text-anchor="end" class="t">200</text><path d="M525.00 189.00H527.50" stroke="#8c8c8c" stroke-width="0.8"/><text transform="translate(520.10 191.60) scale(0.86 1)" text-anchor="end" class="t">400</text><path d="M525.00 175.80H527.50" stroke="#8c8c8c" stroke-width="0.8"/><text transform="translate(520.10 178.40) scale(0.86 1)" text-anchor="end" class="t">600</text><path d="M525.00 162.60H527.50" stroke="#8c8c8c" stroke-width="0.8"/><text transform="translate(520.10 165.20) scale(0.86 1)" text-anchor="end" class="t">800</text><path d="M525.00 149.40H527.50" stroke="#8c8c8c" stroke-width="0.8"/><text transform="translate(520.10 152.00) scale(0.86 1)" text-anchor="end" class="t">1000</text><path d="M525.00 136.20H527.50" stroke="#8c8c8c" stroke-width="0.8"/><text transform="translate(520.10 138.80) scale(0.86 1)" text-anchor="end" class="t">1200</text><path d="M525.00 123.00H527.50" stroke="#8c8c8c" stroke-width="0.8"/><text transform="translate(520.10 125.60) scale(0.86 1)" text-anchor="end" class="t">1400</text><path d="M650.30 215.40H652.80" stroke="#8c8c8c" stroke-width="0.8"/><text transform="translate(657.50 218.00) scale(0.86 1)" class="t">0</text><path d="M650.30 196.92H652.80" stroke="#8c8c8c" stroke-width="0.8"/><text transform="translate(657.50 199.52) scale(0.86 1)" class="t">1</text><path d="M650.30 178.44H652.80" stroke="#8c8c8c" stroke-width="0.8"/><text transform="translate(657.50 181.04) scale(0.86 1)" class="t">2</text><path d="M650.30 159.96H652.80" stroke="#8c8c8c" stroke-width="0.8"/><text transform="translate(657.50 162.56) scale(0.86 1)" class="t">3</text><path d="M650.30 141.48H652.80" stroke="#8c8c8c" stroke-width="0.8"/><text transform="translate(657.50 144.08) scale(0.86 1)" class="t">4</text><path d="M650.30 123.00H652.80" stroke="#8c8c8c" stroke-width="0.8"/><text transform="translate(657.50 125.60) scale(0.86 1)" class="t">5</text><path d="M527.50 215.40V218.40" stroke="#8c8c8c" stroke-width="0.8"/><path d="M547.97 215.40V218.40" stroke="#8c8c8c" stroke-width="0.8"/><path d="M568.43 215.40V218.40" stroke="#8c8c8c" stroke-width="0.8"/><path d="M588.90 215.40V218.40" stroke="#8c8c8c" stroke-width="0.8"/><path d="M609.37 215.40V218.40" stroke="#8c8c8c" stroke-width="0.8"/><path d="M629.83 215.40V218.40" stroke="#8c8c8c" stroke-width="0.8"/><path d="M650.30 215.40V218.40" stroke="#8c8c8c" stroke-width="0.8"/><text transform="translate(537.73 230.10) scale(0.81 1)" text-anchor="middle" class="x">O1</text><text transform="translate(558.20 230.10) scale(0.81 1)" text-anchor="middle" class="x">M1</text><text transform="translate(578.67 230.10) scale(0.81 1)" text-anchor="middle" class="x">O2</text><text transform="translate(599.13 230.10) scale(0.81 1)" text-anchor="middle" class="x">M2</text><text transform="translate(619.60 230.10) scale(0.81 1)" text-anchor="middle" class="x">O3</text><text transform="translate(640.07 230.10) scale(0.81 1)" text-anchor="middle" class="x">M3</text><text x="564.70" y="131.10" class="ti" textLength="49.40" lengthAdjust="spacingAndGlyphs">LOC103437875</text><path d="M537.73 192.29V202.29M536.33 192.29H539.13M536.33 202.29H539.13" stroke="#000" stroke-width="1"/><path d="M558.20 167.73V174.73M556.80 167.73H559.60M556.80 174.73H559.60" stroke="#000" stroke-width="1"/><path d="M578.67 194.29V200.29M577.27 194.29H580.07M577.27 200.29H580.07" stroke="#000" stroke-width="1"/><path d="M599.13 135.91V138.91M597.73 135.91H600.53M597.73 138.91H600.53" stroke="#000" stroke-width="1"/><path d="M619.60 193.29V201.29M618.20 193.29H621.00M618.20 201.29H621.00" stroke="#000" stroke-width="1"/><path d="M640.07 191.26V199.26M638.67 191.26H641.47M638.67 199.26H641.47" stroke="#000" stroke-width="1"/><path d="M537.73 197.29L558.20 171.23" stroke="#c0504d" stroke-width="1.9" fill="none"/><path d="M578.67 197.29L599.13 137.41" stroke="#c0504d" stroke-width="1.9" fill="none"/><path d="M619.60 197.29L640.07 195.26" stroke="#c0504d" stroke-width="1.9" fill="none"/><path d="M535.03 197.29L537.73 194.89L540.43 197.29L537.73 199.69Z" fill="#c0504d"/><path d="M555.50 171.23L558.20 168.83L560.90 171.23L558.20 173.63Z" fill="#c0504d"/><path d="M575.97 197.29L578.67 194.89L581.37 197.29L578.67 199.69Z" fill="#c0504d"/><path d="M596.43 137.41L599.13 135.01L601.83 137.41L599.13 139.81Z" fill="#c0504d"/><path d="M616.90 197.29L619.60 194.89L622.30 197.29L619.60 199.69Z" fill="#c0504d"/><path d="M637.37 195.26L640.07 192.86L642.77 195.26L640.07 197.66Z" fill="#c0504d"/></g><g><rect x="45.66" y="331.98" width="8.61" height="2.02" fill="#4f81bd"/><rect x="67.17" y="292.23" width="8.61" height="41.77" fill="#4f81bd"/><rect x="88.69" y="321.36" width="8.61" height="12.64" fill="#4f81bd"/><rect x="110.21" y="258.70" width="8.61" height="75.30" fill="#4f81bd"/><rect x="131.72" y="319.71" width="8.61" height="14.29" fill="#4f81bd"/><rect x="153.24" y="270.80" width="8.61" height="63.20" fill="#4f81bd"/><path d="M39.50 334.50V242.50H168.50V334.50Z" fill="none" stroke="#484848" stroke-width="1.1"/><path d="M36.70 334.00H39.20" stroke="#8c8c8c" stroke-width="0.8"/><text transform="translate(31.80 336.60) scale(0.86 1)" text-anchor="end" class="t">0</text><path d="M36.70 315.68H39.20" stroke="#8c8c8c" stroke-width="0.8"/><text transform="translate(31.80 318.28) scale(0.86 1)" text-anchor="end" class="t">10</text><path d="M36.70 297.36H39.20" stroke="#8c8c8c" stroke-width="0.8"/><text transform="translate(31.80 299.96) scale(0.86 1)" text-anchor="end" class="t">20</text><path d="M36.70 279.04H39.20" stroke="#8c8c8c" stroke-width="0.8"/><text transform="translate(31.80 281.64) scale(0.86 1)" text-anchor="end" class="t">30</text><path d="M36.70 260.72H39.20" stroke="#8c8c8c" stroke-width="0.8"/><text transform="translate(31.80 263.32) scale(0.86 1)" text-anchor="end" class="t">40</text><path d="M36.70 242.40H39.20" stroke="#8c8c8c" stroke-width="0.8"/><text transform="translate(31.80 245.00) scale(0.86 1)" text-anchor="end" class="t">50</text><path d="M168.30 334.00H170.80" stroke="#8c8c8c" stroke-width="0.8"/><text transform="translate(175.50 336.60) scale(0.86 1)" class="t">0</text><path d="M168.30 320.91H170.80" stroke="#8c8c8c" stroke-width="0.8"/><text transform="translate(175.50 323.51) scale(0.86 1)" class="t">1</text><path d="M168.30 307.83H170.80" stroke="#8c8c8c" stroke-width="0.8"/><text transform="translate(175.50 310.43) scale(0.86 1)" class="t">2</text><path d="M168.30 294.74H170.80" stroke="#8c8c8c" stroke-width="0.8"/><text transform="translate(175.50 297.34) scale(0.86 1)" class="t">3</text><path d="M168.30 281.66H170.80" stroke="#8c8c8c" stroke-width="0.8"/><text transform="translate(175.50 284.26) scale(0.86 1)" class="t">4</text><path d="M168.30 268.57H170.80" stroke="#8c8c8c" stroke-width="0.8"/><text transform="translate(175.50 271.17) scale(0.86 1)" class="t">5</text><path d="M168.30 255.49H170.80" stroke="#8c8c8c" stroke-width="0.8"/><text transform="translate(175.50 258.09) scale(0.86 1)" class="t">6</text><path d="M168.30 242.40H170.80" stroke="#8c8c8c" stroke-width="0.8"/><text transform="translate(175.50 245.00) scale(0.86 1)" class="t">7</text><path d="M39.20 334.00V337.00" stroke="#8c8c8c" stroke-width="0.8"/><path d="M60.72 334.00V337.00" stroke="#8c8c8c" stroke-width="0.8"/><path d="M82.23 334.00V337.00" stroke="#8c8c8c" stroke-width="0.8"/><path d="M103.75 334.00V337.00" stroke="#8c8c8c" stroke-width="0.8"/><path d="M125.27 334.00V337.00" stroke="#8c8c8c" stroke-width="0.8"/><path d="M146.78 334.00V337.00" stroke="#8c8c8c" stroke-width="0.8"/><path d="M168.30 334.00V337.00" stroke="#8c8c8c" stroke-width="0.8"/><text transform="translate(49.96 348.70) scale(0.81 1)" text-anchor="middle" class="x">O1</text><text transform="translate(71.48 348.70) scale(0.81 1)" text-anchor="middle" class="x">M1</text><text transform="translate(92.99 348.70) scale(0.81 1)" text-anchor="middle" class="x">O2</text><text transform="translate(114.51 348.70) scale(0.81 1)" text-anchor="middle" class="x">M2</text><text transform="translate(136.03 348.70) scale(0.81 1)" text-anchor="middle" class="x">O3</text><text transform="translate(157.54 348.70) scale(0.81 1)" text-anchor="middle" class="x">M3</text><text x="75.30" y="250.50" class="ti" textLength="58.90" lengthAdjust="spacingAndGlyphs">TCONS_00045044</text><path d="M49.96 317.44V325.44M48.56 317.44H51.36M48.56 325.44H51.36" stroke="#000" stroke-width="1"/><path d="M71.48 310.82V315.82M70.08 310.82H72.88M70.08 315.82H72.88" stroke="#000" stroke-width="1"/><path d="M92.99 319.94V322.94M91.59 319.94H94.39M91.59 322.94H94.39" stroke="#000" stroke-width="1"/><path d="M114.51 256.60V259.60M113.11 256.60H115.91M113.11 259.60H115.91" stroke="#000" stroke-width="1"/><path d="M136.03 318.91V322.91M134.63 318.91H137.43M134.63 322.91H137.43" stroke="#000" stroke-width="1"/><path d="M157.54 302.87V308.87M156.14 302.87H158.94M156.14 308.87H158.94" stroke="#000" stroke-width="1"/><path d="M49.96 321.44L71.48 313.32" stroke="#c0504d" stroke-width="1.9" fill="none"/><path d="M92.99 321.44L114.51 258.10" stroke="#c0504d" stroke-width="1.9" fill="none"/><path d="M136.03 320.91L157.54 305.87" stroke="#c0504d" stroke-width="1.9" fill="none"/><path d="M47.26 321.44L49.96 319.04L52.66 321.44L49.96 323.84Z" fill="#c0504d"/><path d="M68.78 313.32L71.48 310.92L74.18 313.32L71.48 315.72Z" fill="#c0504d"/><path d="M90.29 321.44L92.99 319.04L95.69 321.44L92.99 323.84Z" fill="#c0504d"/><path d="M111.81 258.10L114.51 255.70L117.21 258.10L114.51 260.50Z" fill="#c0504d"/><path d="M133.33 320.91L136.03 318.51L138.73 320.91L136.03 323.31Z" fill="#c0504d"/><path d="M154.84 305.87L157.54 303.47L160.24 305.87L157.54 308.27Z" fill="#c0504d"/></g><g><rect x="206.79" y="313.70" width="8.39" height="21.30" fill="#4f81bd"/><rect x="227.76" y="260.61" width="8.39" height="74.39" fill="#4f81bd"/><rect x="248.72" y="331.91" width="8.39" height="3.09" fill="#4f81bd"/><rect x="269.69" y="269.25" width="8.39" height="65.75" fill="#4f81bd"/><rect x="290.66" y="330.37" width="8.39" height="4.63" fill="#4f81bd"/><rect x="311.62" y="308.76" width="8.39" height="26.24" fill="#4f81bd"/><path d="M200.50 334.50V242.50H326.50V334.50Z" fill="none" stroke="#484848" stroke-width="1.1"/><path d="M198.00 335.00H200.50" stroke="#8c8c8c" stroke-width="0.8"/><text transform="translate(193.10 337.60) scale(0.86 1)" text-anchor="end" class="t">0</text><path d="M198.00 319.57H200.50" stroke="#8c8c8c" stroke-width="0.8"/><text transform="translate(193.10 322.17) scale(0.86 1)" text-anchor="end" class="t">5</text><path d="M198.00 304.13H200.50" stroke="#8c8c8c" stroke-width="0.8"/><text transform="translate(193.10 306.73) scale(0.86 1)" text-anchor="end" class="t">10</text><path d="M198.00 288.70H200.50" stroke="#8c8c8c" stroke-width="0.8"/><text transform="translate(193.10 291.30) scale(0.86 1)" text-anchor="end" class="t">15</text><path d="M198.00 273.27H200.50" stroke="#8c8c8c" stroke-width="0.8"/><text transform="translate(193.10 275.87) scale(0.86 1)" text-anchor="end" class="t">20</text><path d="M198.00 257.83H200.50" stroke="#8c8c8c" stroke-width="0.8"/><text transform="translate(193.10 260.43) scale(0.86 1)" text-anchor="end" class="t">25</text><path d="M198.00 242.40H200.50" stroke="#8c8c8c" stroke-width="0.8"/><text transform="translate(193.10 245.00) scale(0.86 1)" text-anchor="end" class="t">30</text><path d="M326.30 335.00H328.80" stroke="#8c8c8c" stroke-width="0.8"/><text transform="translate(333.50 337.60) scale(0.86 1)" class="t">0</text><path d="M326.30 321.77H328.80" stroke="#8c8c8c" stroke-width="0.8"/><text transform="translate(333.50 324.37) scale(0.86 1)" class="t">1</text><path d="M326.30 308.54H328.80" stroke="#8c8c8c" stroke-width="0.8"/><text transform="translate(333.50 311.14) scale(0.86 1)" class="t">2</text><path d="M326.30 295.31H328.80" stroke="#8c8c8c" stroke-width="0.8"/><text transform="translate(333.50 297.91) scale(0.86 1)" class="t">3</text><path d="M326.30 282.09H328.80" stroke="#8c8c8c" stroke-width="0.8"/><text transform="translate(333.50 284.69) scale(0.86 1)" class="t">4</text><path d="M326.30 268.86H328.80" stroke="#8c8c8c" stroke-width="0.8"/><text transform="translate(333.50 271.46) scale(0.86 1)" class="t">5</text><path d="M326.30 255.63H328.80" stroke="#8c8c8c" stroke-width="0.8"/><text transform="translate(333.50 258.23) scale(0.86 1)" class="t">6</text><path d="M326.30 242.40H328.80" stroke="#8c8c8c" stroke-width="0.8"/><text transform="translate(333.50 245.00) scale(0.86 1)" class="t">7</text><path d="M200.50 335.00V338.00" stroke="#8c8c8c" stroke-width="0.8"/><path d="M221.47 335.00V338.00" stroke="#8c8c8c" stroke-width="0.8"/><path d="M242.43 335.00V338.00" stroke="#8c8c8c" stroke-width="0.8"/><path d="M263.40 335.00V338.00" stroke="#8c8c8c" stroke-width="0.8"/><path d="M284.37 335.00V338.00" stroke="#8c8c8c" stroke-width="0.8"/><path d="M305.33 335.00V338.00" stroke="#8c8c8c" stroke-width="0.8"/><path d="M326.30 335.00V338.00" stroke="#8c8c8c" stroke-width="0.8"/><text transform="translate(210.98 349.70) scale(0.81 1)" text-anchor="middle" class="x">O1</text><text transform="translate(231.95 349.70) scale(0.81 1)" text-anchor="middle" class="x">M1</text><text transform="translate(252.92 349.70) scale(0.81 1)" text-anchor="middle" class="x">O2</text><text transform="translate(273.88 349.70) scale(0.81 1)" text-anchor="middle" class="x">M2</text><text transform="translate(294.85 349.70) scale(0.81 1)" text-anchor="middle" class="x">O3</text><text transform="translate(315.82 349.70) scale(0.81 1)" text-anchor="middle" class="x">M3</text><text x="239.90" y="250.50" class="ti" textLength="49.30" lengthAdjust="spacingAndGlyphs">LOC103440008</text><path d="M210.98 319.33V326.33M209.58 319.33H212.38M209.58 326.33H212.38" stroke="#000" stroke-width="1"/><path d="M231.95 309.19V313.19M230.55 309.19H233.35M230.55 313.19H233.35" stroke="#000" stroke-width="1"/><path d="M252.92 320.67V323.67M251.52 320.67H254.32M251.52 323.67H254.32" stroke="#000" stroke-width="1"/><path d="M273.88 256.38V259.38M272.48 256.38H275.28M272.48 259.38H275.28" stroke="#000" stroke-width="1"/><path d="M294.85 320.30V324.30M293.45 320.30H296.25M293.45 324.30H296.25" stroke="#000" stroke-width="1"/><path d="M315.82 303.79V308.79M314.42 303.79H317.22M314.42 308.79H317.22" stroke="#000" stroke-width="1"/><path d="M210.98 322.83L231.95 311.19" stroke="#c0504d" stroke-width="1.9" fill="none"/><path d="M252.92 322.17L273.88 257.88" stroke="#c0504d" stroke-width="1.9" fill="none"/><path d="M294.85 322.30L315.82 306.29" stroke="#c0504d" stroke-width="1.9" fill="none"/><path d="M208.28 322.83L210.98 320.43L213.68 322.83L210.98 325.23Z" fill="#c0504d"/><path d="M229.25 311.19L231.95 308.79L234.65 311.19L231.95 313.59Z" fill="#c0504d"/><path d="M250.22 322.17L252.92 319.77L255.62 322.17L252.92 324.57Z" fill="#c0504d"/><path d="M271.18 257.88L273.88 255.48L276.58 257.88L273.88 260.28Z" fill="#c0504d"/><path d="M292.15 322.30L294.85 319.90L297.55 322.30L294.85 324.70Z" fill="#c0504d"/><path d="M313.12 306.29L315.82 303.89L318.52 306.29L315.82 308.69Z" fill="#c0504d"/></g><g><rect x="368.28" y="332.04" width="8.77" height="2.96" fill="#4f81bd"/><rect x="390.21" y="256.10" width="8.77" height="78.90" fill="#4f81bd"/><rect x="434.08" y="317.96" width="8.77" height="17.04" fill="#4f81bd"/><rect x="456.01" y="334.30" width="8.77" height="0.70" fill="#4f81bd"/><rect x="477.95" y="325.74" width="8.77" height="9.26" fill="#4f81bd"/><path d="M361.50 334.50V242.50H493.50V334.50Z" fill="none" stroke="#484848" stroke-width="1.1"/><path d="M359.20 335.00H361.70" stroke="#8c8c8c" stroke-width="0.8"/><text transform="translate(354.30 337.60) scale(0.86 1)" text-anchor="end" class="t">0</text><path d="M359.20 316.48H361.70" stroke="#8c8c8c" stroke-width="0.8"/><text transform="translate(354.30 319.08) scale(0.86 1)" text-anchor="end" class="t">10</text><path d="M359.20 297.96H361.70" stroke="#8c8c8c" stroke-width="0.8"/><text transform="translate(354.30 300.56) scale(0.86 1)" text-anchor="end" class="t">20</text><path d="M359.20 279.44H361.70" stroke="#8c8c8c" stroke-width="0.8"/><text transform="translate(354.30 282.04) scale(0.86 1)" text-anchor="end" class="t">30</text><path d="M359.20 260.92H361.70" stroke="#8c8c8c" stroke-width="0.8"/><text transform="translate(354.30 263.52) scale(0.86 1)" text-anchor="end" class="t">40</text><path d="M359.20 242.40H361.70" stroke="#8c8c8c" stroke-width="0.8"/><text transform="translate(354.30 245.00) scale(0.86 1)" text-anchor="end" class="t">50</text><path d="M493.30 335.00H495.80" stroke="#8c8c8c" stroke-width="0.8"/><text transform="translate(500.50 337.60) scale(0.86 1)" class="t">0</text><path d="M493.30 316.48H495.80" stroke="#8c8c8c" stroke-width="0.8"/><text transform="translate(500.50 319.08) scale(0.86 1)" class="t">1</text><path d="M493.30 297.96H495.80" stroke="#8c8c8c" stroke-width="0.8"/><text transform="translate(500.50 300.56) scale(0.86 1)" class="t">2</text><path d="M493.30 279.44H495.80" stroke="#8c8c8c" stroke-width="0.8"/><text transform="translate(500.50 282.04) scale(0.86 1)" class="t">3</text><path d="M493.30 260.92H495.80" stroke="#8c8c8c" stroke-width="0.8"/><text transform="translate(500.50 263.52) scale(0.86 1)" class="t">4</text><path d="M493.30 242.40H495.80" stroke="#8c8c8c" stroke-width="0.8"/><text transform="translate(500.50 245.00) scale(0.86 1)" class="t">5</text><path d="M361.70 335.00V338.00" stroke="#8c8c8c" stroke-width="0.8"/><path d="M383.63 335.00V338.00" stroke="#8c8c8c" stroke-width="0.8"/><path d="M405.57 335.00V338.00" stroke="#8c8c8c" stroke-width="0.8"/><path d="M427.50 335.00V338.00" stroke="#8c8c8c" stroke-width="0.8"/><path d="M449.43 335.00V338.00" stroke="#8c8c8c" stroke-width="0.8"/><path d="M471.37 335.00V338.00" stroke="#8c8c8c" stroke-width="0.8"/><path d="M493.30 335.00V338.00" stroke="#8c8c8c" stroke-width="0.8"/><text transform="translate(372.67 349.70) scale(0.81 1)" text-anchor="middle" class="x">O1</text><text transform="translate(394.60 349.70) scale(0.81 1)" text-anchor="middle" class="x">M1</text><text transform="translate(416.53 349.70) scale(0.81 1)" text-anchor="middle" class="x">O2</text><text transform="translate(438.47 349.70) scale(0.81 1)" text-anchor="middle" class="x">M2</text><text transform="translate(460.40 349.70) scale(0.81 1)" text-anchor="middle" class="x">O3</text><text transform="translate(482.33 349.70) scale(0.81 1)" text-anchor="middle" class="x">M3</text><text x="402.20" y="250.50" class="ti" textLength="49.50" lengthAdjust="spacingAndGlyphs">LOC103444202</text><path d="M372.67 312.22V322.22M371.27 312.22H374.07M371.27 322.22H374.07" stroke="#000" stroke-width="1"/><path d="M394.60 288.72V295.72M393.20 288.72H396.00M393.20 295.72H396.00" stroke="#000" stroke-width="1"/><path d="M416.53 314.22V320.22M415.13 314.22H417.93M415.13 320.22H417.93" stroke="#000" stroke-width="1"/><path d="M438.47 254.05V257.05M437.07 254.05H439.87M437.07 257.05H439.87" stroke="#000" stroke-width="1"/><path d="M460.40 314.22V320.22M459.00 314.22H461.80M459.00 320.22H461.80" stroke="#000" stroke-width="1"/><path d="M482.33 276.18V284.18M480.93 276.18H483.73M480.93 284.18H483.73" stroke="#000" stroke-width="1"/><path d="M372.67 317.22L394.60 292.22" stroke="#c0504d" stroke-width="1.9" fill="none"/><path d="M416.53 317.22L438.47 255.55" stroke="#c0504d" stroke-width="1.9" fill="none"/><path d="M460.40 317.22L482.33 280.18" stroke="#c0504d" stroke-width="1.9" fill="none"/><path d="M369.97 317.22L372.67 314.82L375.37 317.22L372.67 319.62Z" fill="#c0504d"/><path d="M391.90 292.22L394.60 289.82L397.30 292.22L394.60 294.62Z" fill="#c0504d"/><path d="M413.83 317.22L416.53 314.82L419.23 317.22L416.53 319.62Z" fill="#c0504d"/><path d="M435.77 255.55L438.47 253.15L441.17 255.55L438.47 257.95Z" fill="#c0504d"/><path d="M457.70 317.22L460.40 314.82L463.10 317.22L460.40 319.62Z" fill="#c0504d"/><path d="M479.63 280.18L482.33 277.78L485.03 280.18L482.33 282.58Z" fill="#c0504d"/></g><g><rect x="533.79" y="262.40" width="8.39" height="72.60" fill="#4f81bd"/><rect x="554.76" y="259.07" width="8.39" height="75.93" fill="#4f81bd"/><rect x="575.72" y="312.78" width="8.39" height="22.22" fill="#4f81bd"/><rect x="596.69" y="284.26" width="8.39" height="50.74" fill="#4f81bd"/><rect x="617.66" y="297.59" width="8.39" height="37.41" fill="#4f81bd"/><rect x="638.62" y="259.07" width="8.39" height="75.93" fill="#4f81bd"/><path d="M527.50 334.50V242.50H653.50V334.50Z" fill="none" stroke="#484848" stroke-width="1.1"/><path d="M525.00 335.00H527.50" stroke="#8c8c8c" stroke-width="0.8"/><text transform="translate(520.10 337.60) scale(0.86 1)" text-anchor="end" class="t">0</text><path d="M525.00 316.48H527.50" stroke="#8c8c8c" stroke-width="0.8"/><text transform="translate(520.10 319.08) scale(0.86 1)" text-anchor="end" class="t">5</text><path d="M525.00 297.96H527.50" stroke="#8c8c8c" stroke-width="0.8"/><text transform="translate(520.10 300.56) scale(0.86 1)" text-anchor="end" class="t">10</text><path d="M525.00 279.44H527.50" stroke="#8c8c8c" stroke-width="0.8"/><text transform="translate(520.10 282.04) scale(0.86 1)" text-anchor="end" class="t">15</text><path d="M525.00 260.92H527.50" stroke="#8c8c8c" stroke-width="0.8"/><text transform="translate(520.10 263.52) scale(0.86 1)" text-anchor="end" class="t">20</text><path d="M525.00 242.40H527.50" stroke="#8c8c8c" stroke-width="0.8"/><text transform="translate(520.10 245.00) scale(0.86 1)" text-anchor="end" class="t">25</text><path d="M653.30 335.00H655.80" stroke="#8c8c8c" stroke-width="0.8"/><text transform="translate(660.50 337.60) scale(0.86 1)" class="t">0</text><path d="M653.30 311.85H655.80" stroke="#8c8c8c" stroke-width="0.8"/><text transform="translate(660.50 314.45) scale(0.86 1)" class="t">0.5</text><path d="M653.30 288.70H655.80" stroke="#8c8c8c" stroke-width="0.8"/><text transform="translate(660.50 291.30) scale(0.86 1)" class="t">1</text><path d="M653.30 265.55H655.80" stroke="#8c8c8c" stroke-width="0.8"/><text transform="translate(660.50 268.15) scale(0.86 1)" class="t">1.5</text><path d="M653.30 242.40H655.80" stroke="#8c8c8c" stroke-width="0.8"/><text transform="translate(660.50 245.00) scale(0.86 1)" class="t">2</text><path d="M527.50 335.00V338.00" stroke="#8c8c8c" stroke-width="0.8"/><path d="M548.47 335.00V338.00" stroke="#8c8c8c" stroke-width="0.8"/><path d="M569.43 335.00V338.00" stroke="#8c8c8c" stroke-width="0.8"/><path d="M590.40 335.00V338.00" stroke="#8c8c8c" stroke-width="0.8"/><path d="M611.37 335.00V338.00" stroke="#8c8c8c" stroke-width="0.8"/><path d="M632.33 335.00V338.00" stroke="#8c8c8c" stroke-width="0.8"/><path d="M653.30 335.00V338.00" stroke="#8c8c8c" stroke-width="0.8"/><text transform="translate(537.98 349.70) scale(0.81 1)" text-anchor="middle" class="x">O1</text><text transform="translate(558.95 349.70) scale(0.81 1)" text-anchor="middle" class="x">M1</text><text transform="translate(579.92 349.70) scale(0.81 1)" text-anchor="middle" class="x">O2</text><text transform="translate(600.88 349.70) scale(0.81 1)" text-anchor="middle" class="x">M2</text><text transform="translate(621.85 349.70) scale(0.81 1)" text-anchor="middle" class="x">O3</text><text transform="translate(642.82 349.70) scale(0.81 1)" text-anchor="middle" class="x">M3</text><text x="566.30" y="250.50" class="ti" textLength="49.20" lengthAdjust="spacingAndGlyphs">LOC103448549</text><path d="M537.98 286.66V291.66M536.58 286.66H539.38M536.58 291.66H539.38" stroke="#000" stroke-width="1"/><path d="M558.95 288.78V292.78M557.55 288.78H560.35M557.55 292.78H560.35" stroke="#000" stroke-width="1"/><path d="M579.92 286.66V291.66M578.52 286.66H581.32M578.52 291.66H581.32" stroke="#000" stroke-width="1"/><path d="M600.88 270.35V278.35M599.48 270.35H602.28M599.48 278.35H602.28" stroke="#000" stroke-width="1"/><path d="M621.85 286.16V292.16M620.45 286.16H623.25M620.45 292.16H623.25" stroke="#000" stroke-width="1"/><path d="M642.82 279.18V286.18M641.42 279.18H644.22M641.42 286.18H644.22" stroke="#000" stroke-width="1"/><path d="M537.98 289.16L558.95 290.78" stroke="#c0504d" stroke-width="1.9" fill="none"/><path d="M579.92 289.16L600.88 274.35" stroke="#c0504d" stroke-width="1.9" fill="none"/><path d="M621.85 289.16L642.82 282.68" stroke="#c0504d" stroke-width="1.9" fill="none"/><path d="M535.28 289.16L537.98 286.76L540.68 289.16L537.98 291.56Z" fill="#c0504d"/><path d="M556.25 290.78L558.95 288.38L561.65 290.78L558.95 293.18Z" fill="#c0504d"/><path d="M577.22 289.16L579.92 286.76L582.62 289.16L579.92 291.56Z" fill="#c0504d"/><path d="M598.18 274.35L600.88 271.95L603.58 274.35L600.88 276.75Z" fill="#c0504d"/><path d="M619.15 289.16L621.85 286.76L624.55 289.16L621.85 291.56Z" fill="#c0504d"/><path d="M640.12 282.68L642.82 280.28L645.52 282.68L642.82 285.08Z" fill="#c0504d"/></g><g><rect x="47.32" y="419.31" width="8.70" height="40.09" fill="#4f81bd"/><rect x="69.08" y="386.63" width="8.70" height="72.77" fill="#4f81bd"/><rect x="90.83" y="453.84" width="8.70" height="5.56" fill="#4f81bd"/><rect x="112.58" y="438.54" width="8.70" height="20.86" fill="#4f81bd"/><rect x="134.33" y="454.07" width="8.70" height="5.33" fill="#4f81bd"/><rect x="156.08" y="448.51" width="8.70" height="10.89" fill="#4f81bd"/><path d="M40.50 459.50V366.50H171.50V459.50Z" fill="none" stroke="#484848" stroke-width="1.1"/><path d="M38.30 459.40H40.80" stroke="#8c8c8c" stroke-width="0.8"/><text transform="translate(33.40 462.00) scale(0.86 1)" text-anchor="end" class="t">0</text><path d="M38.30 436.22H40.80" stroke="#8c8c8c" stroke-width="0.8"/><text transform="translate(33.40 438.82) scale(0.86 1)" text-anchor="end" class="t">100</text><path d="M38.30 413.05H40.80" stroke="#8c8c8c" stroke-width="0.8"/><text transform="translate(33.40 415.65) scale(0.86 1)" text-anchor="end" class="t">200</text><path d="M38.30 389.88H40.80" stroke="#8c8c8c" stroke-width="0.8"/><text transform="translate(33.40 392.48) scale(0.86 1)" text-anchor="end" class="t">300</text><path d="M38.30 366.70H40.80" stroke="#8c8c8c" stroke-width="0.8"/><text transform="translate(33.40 369.30) scale(0.86 1)" text-anchor="end" class="t">400</text><path d="M171.30 459.40H173.80" stroke="#8c8c8c" stroke-width="0.8"/><text transform="translate(178.50 462.00) scale(0.86 1)" class="t">0</text><path d="M171.30 440.86H173.80" stroke="#8c8c8c" stroke-width="0.8"/><text transform="translate(178.50 443.46) scale(0.86 1)" class="t">1</text><path d="M171.30 422.32H173.80" stroke="#8c8c8c" stroke-width="0.8"/><text transform="translate(178.50 424.92) scale(0.86 1)" class="t">2</text><path d="M171.30 403.78H173.80" stroke="#8c8c8c" stroke-width="0.8"/><text transform="translate(178.50 406.38) scale(0.86 1)" class="t">3</text><path d="M171.30 385.24H173.80" stroke="#8c8c8c" stroke-width="0.8"/><text transform="translate(178.50 387.84) scale(0.86 1)" class="t">4</text><path d="M171.30 366.70H173.80" stroke="#8c8c8c" stroke-width="0.8"/><text transform="translate(178.50 369.30) scale(0.86 1)" class="t">5</text><path d="M40.80 459.40V462.40" stroke="#8c8c8c" stroke-width="0.8"/><path d="M62.55 459.40V462.40" stroke="#8c8c8c" stroke-width="0.8"/><path d="M84.30 459.40V462.40" stroke="#8c8c8c" stroke-width="0.8"/><path d="M106.05 459.40V462.40" stroke="#8c8c8c" stroke-width="0.8"/><path d="M127.80 459.40V462.40" stroke="#8c8c8c" stroke-width="0.8"/><path d="M149.55 459.40V462.40" stroke="#8c8c8c" stroke-width="0.8"/><path d="M171.30 459.40V462.40" stroke="#8c8c8c" stroke-width="0.8"/><text transform="translate(51.67 474.10) scale(0.81 1)" text-anchor="middle" class="x">O1</text><text transform="translate(73.42 474.10) scale(0.81 1)" text-anchor="middle" class="x">M1</text><text transform="translate(95.17 474.10) scale(0.81 1)" text-anchor="middle" class="x">O2</text><text transform="translate(116.92 474.10) scale(0.81 1)" text-anchor="middle" class="x">M2</text><text transform="translate(138.68 474.10) scale(0.81 1)" text-anchor="middle" class="x">O3</text><text transform="translate(160.43 474.10) scale(0.81 1)" text-anchor="middle" class="x">M3</text><text x="80.30" y="374.80" class="ti" textLength="49.90" lengthAdjust="spacingAndGlyphs">LOC103437326</text><path d="M51.67 436.72V445.92M50.27 436.72H53.07M50.27 445.92H53.07" stroke="#000" stroke-width="1"/><path d="M73.42 402.45V408.45M72.02 402.45H74.83M72.02 408.45H74.83" stroke="#000" stroke-width="1"/><path d="M95.17 439.29V444.29M93.77 439.29H96.58M93.77 444.29H96.58" stroke="#000" stroke-width="1"/><path d="M116.92 401.04V405.04M115.52 401.04H118.33M115.52 405.04H118.33" stroke="#000" stroke-width="1"/><path d="M138.68 438.32V444.32M137.28 438.32H140.08M137.28 444.32H140.08" stroke="#000" stroke-width="1"/><path d="M160.43 403.06V410.06M159.03 403.06H161.83M159.03 410.06H161.83" stroke="#000" stroke-width="1"/><path d="M51.67 441.32L73.42 405.45" stroke="#c0504d" stroke-width="1.9" fill="none"/><path d="M95.17 441.79L116.92 403.04" stroke="#c0504d" stroke-width="1.9" fill="none"/><path d="M138.68 441.32L160.43 406.56" stroke="#c0504d" stroke-width="1.9" fill="none"/><path d="M48.97 441.32L51.67 438.92L54.38 441.32L51.67 443.72Z" fill="#c0504d"/><path d="M70.72 405.45L73.42 403.05L76.12 405.45L73.42 407.85Z" fill="#c0504d"/><path d="M92.47 441.79L95.17 439.39L97.88 441.79L95.17 444.19Z" fill="#c0504d"/><path d="M114.22 403.04L116.92 400.64L119.62 403.04L116.92 405.44Z" fill="#c0504d"/><path d="M135.98 441.32L138.68 438.92L141.38 441.32L138.68 443.72Z" fill="#c0504d"/><path d="M157.73 406.56L160.43 404.16L163.12 406.56L160.43 408.96Z" fill="#c0504d"/></g><g><rect x="210.16" y="425.25" width="8.08" height="34.15" fill="#4f81bd"/><rect x="230.36" y="381.25" width="8.08" height="78.15" fill="#4f81bd"/><rect x="250.56" y="456.02" width="8.08" height="3.38" fill="#4f81bd"/><rect x="270.76" y="445.86" width="8.08" height="13.54" fill="#4f81bd"/><rect x="290.96" y="454.78" width="8.08" height="4.62" fill="#4f81bd"/><rect x="311.16" y="453.40" width="8.08" height="6.00" fill="#4f81bd"/><path d="M204.50 459.50V367.50H325.50V459.50Z" fill="none" stroke="#484848" stroke-width="1.1"/><path d="M201.60 459.40H204.10" stroke="#8c8c8c" stroke-width="0.8"/><text transform="translate(196.70 462.00) scale(0.86 1)" text-anchor="end" class="t">0</text><path d="M201.60 444.02H204.10" stroke="#8c8c8c" stroke-width="0.8"/><text transform="translate(196.70 446.62) scale(0.86 1)" text-anchor="end" class="t">5</text><path d="M201.60 428.63H204.10" stroke="#8c8c8c" stroke-width="0.8"/><text transform="translate(196.70 431.23) scale(0.86 1)" text-anchor="end" class="t">10</text><path d="M201.60 413.25H204.10" stroke="#8c8c8c" stroke-width="0.8"/><text transform="translate(196.70 415.85) scale(0.86 1)" text-anchor="end" class="t">15</text><path d="M201.60 397.87H204.10" stroke="#8c8c8c" stroke-width="0.8"/><text transform="translate(196.70 400.47) scale(0.86 1)" text-anchor="end" class="t">20</text><path d="M201.60 382.48H204.10" stroke="#8c8c8c" stroke-width="0.8"/><text transform="translate(196.70 385.08) scale(0.86 1)" text-anchor="end" class="t">25</text><path d="M201.60 367.10H204.10" stroke="#8c8c8c" stroke-width="0.8"/><text transform="translate(196.70 369.70) scale(0.86 1)" text-anchor="end" class="t">30</text><path d="M325.30 459.40H327.80" stroke="#8c8c8c" stroke-width="0.8"/><text transform="translate(332.50 462.00) scale(0.86 1)" class="t">0</text><path d="M325.30 440.94H327.80" stroke="#8c8c8c" stroke-width="0.8"/><text transform="translate(332.50 443.54) scale(0.86 1)" class="t">0.5</text><path d="M325.30 422.48H327.80" stroke="#8c8c8c" stroke-width="0.8"/><text transform="translate(332.50 425.08) scale(0.86 1)" class="t">1</text><path d="M325.30 404.02H327.80" stroke="#8c8c8c" stroke-width="0.8"/><text transform="translate(332.50 406.62) scale(0.86 1)" class="t">1.5</text><path d="M325.30 385.56H327.80" stroke="#8c8c8c" stroke-width="0.8"/><text transform="translate(332.50 388.16) scale(0.86 1)" class="t">2</text><path d="M325.30 367.10H327.80" stroke="#8c8c8c" stroke-width="0.8"/><text transform="translate(332.50 369.70) scale(0.86 1)" class="t">2.5</text><path d="M204.10 459.40V462.40" stroke="#8c8c8c" stroke-width="0.8"/><path d="M224.30 459.40V462.40" stroke="#8c8c8c" stroke-width="0.8"/><path d="M244.50 459.40V462.40" stroke="#8c8c8c" stroke-width="0.8"/><path d="M264.70 459.40V462.40" stroke="#8c8c8c" stroke-width="0.8"/><path d="M284.90 459.40V462.40" stroke="#8c8c8c" stroke-width="0.8"/><path d="M305.10 459.40V462.40" stroke="#8c8c8c" stroke-width="0.8"/><path d="M325.30 459.40V462.40" stroke="#8c8c8c" stroke-width="0.8"/><text transform="translate(214.20 474.10) scale(0.81 1)" text-anchor="middle" class="x">O1</text><text transform="translate(234.40 474.10) scale(0.81 1)" text-anchor="middle" class="x">M1</text><text transform="translate(254.60 474.10) scale(0.81 1)" text-anchor="middle" class="x">O2</text><text transform="translate(274.80 474.10) scale(0.81 1)" text-anchor="middle" class="x">M2</text><text transform="translate(295.00 474.10) scale(0.81 1)" text-anchor="middle" class="x">O3</text><text transform="translate(315.20 474.10) scale(0.81 1)" text-anchor="middle" class="x">M3</text><text x="243.30" y="375.20" class="ti" textLength="49.50" lengthAdjust="spacingAndGlyphs">LOC103426517</text><path d="M214.20 413.55V432.15M212.80 413.55H215.60M212.80 432.15H215.60" stroke="#000" stroke-width="1"/><path d="M234.40 408.29V419.69M233.00 408.29H235.80M233.00 419.69H235.80" stroke="#000" stroke-width="1"/><path d="M254.60 417.15V428.55M253.20 417.15H256.00M253.20 428.55H256.00" stroke="#000" stroke-width="1"/><path d="M274.80 407.54V416.74M273.40 407.54H276.20M273.40 416.74H276.20" stroke="#000" stroke-width="1"/><path d="M295.00 415.98V428.98M293.60 415.98H296.40M293.60 428.98H296.40" stroke="#000" stroke-width="1"/><path d="M315.20 418.80V432.80M313.80 418.80H316.60M313.80 432.80H316.60" stroke="#000" stroke-width="1"/><path d="M214.20 422.85L234.40 413.99" stroke="#c0504d" stroke-width="1.9" fill="none"/><path d="M254.60 422.85L274.80 412.14" stroke="#c0504d" stroke-width="1.9" fill="none"/><path d="M295.00 422.48L315.20 425.80" stroke="#c0504d" stroke-width="1.9" fill="none"/><path d="M211.50 422.85L214.20 420.45L216.90 422.85L214.20 425.25Z" fill="#c0504d"/><path d="M231.70 413.99L234.40 411.59L237.10 413.99L234.40 416.39Z" fill="#c0504d"/><path d="M251.90 422.85L254.60 420.45L257.30 422.85L254.60 425.25Z" fill="#c0504d"/><path d="M272.10 412.14L274.80 409.74L277.50 412.14L274.80 414.54Z" fill="#c0504d"/><path d="M292.30 422.48L295.00 420.08L297.70 422.48L295.00 424.88Z" fill="#c0504d"/><path d="M312.50 425.80L315.20 423.40L317.90 425.80L315.20 428.20Z" fill="#c0504d"/></g><g><rect x="373.21" y="406.21" width="8.15" height="53.19" fill="#4f81bd"/><rect x="393.58" y="380.61" width="8.15" height="78.79" fill="#4f81bd"/><rect x="413.94" y="458.36" width="8.15" height="1.04" fill="#4f81bd"/><rect x="434.31" y="445.84" width="8.15" height="13.56" fill="#4f81bd"/><rect x="454.68" y="458.70" width="8.15" height="0.70" fill="#4f81bd"/><rect x="475.04" y="455.00" width="8.15" height="4.40" fill="#4f81bd"/><path d="M367.50 459.50V366.50H489.50V459.50Z" fill="none" stroke="#484848" stroke-width="1.1"/><path d="M364.60 459.40H367.10" stroke="#8c8c8c" stroke-width="0.8"/><text transform="translate(359.70 462.00) scale(0.86 1)" text-anchor="end" class="t">0</text><path d="M364.60 436.22H367.10" stroke="#8c8c8c" stroke-width="0.8"/><text transform="translate(359.70 438.82) scale(0.86 1)" text-anchor="end" class="t">200</text><path d="M364.60 413.05H367.10" stroke="#8c8c8c" stroke-width="0.8"/><text transform="translate(359.70 415.65) scale(0.86 1)" text-anchor="end" class="t">400</text><path d="M364.60 389.88H367.10" stroke="#8c8c8c" stroke-width="0.8"/><text transform="translate(359.70 392.48) scale(0.86 1)" text-anchor="end" class="t">600</text><path d="M364.60 366.70H367.10" stroke="#8c8c8c" stroke-width="0.8"/><text transform="translate(359.70 369.30) scale(0.86 1)" text-anchor="end" class="t">800</text><path d="M489.30 459.40H491.80" stroke="#8c8c8c" stroke-width="0.8"/><text transform="translate(496.50 462.00) scale(0.86 1)" class="t">0</text><path d="M489.30 443.95H491.80" stroke="#8c8c8c" stroke-width="0.8"/><text transform="translate(496.50 446.55) scale(0.86 1)" class="t">1</text><path d="M489.30 428.50H491.80" stroke="#8c8c8c" stroke-width="0.8"/><text transform="translate(496.50 431.10) scale(0.86 1)" class="t">2</text><path d="M489.30 413.05H491.80" stroke="#8c8c8c" stroke-width="0.8"/><text transform="translate(496.50 415.65) scale(0.86 1)" class="t">3</text><path d="M489.30 397.60H491.80" stroke="#8c8c8c" stroke-width="0.8"/><text transform="translate(496.50 400.20) scale(0.86 1)" class="t">4</text><path d="M489.30 382.15H491.80" stroke="#8c8c8c" stroke-width="0.8"/><text transform="translate(496.50 384.75) scale(0.86 1)" class="t">5</text><path d="M489.30 366.70H491.80" stroke="#8c8c8c" stroke-width="0.8"/><text transform="translate(496.50 369.30) scale(0.86 1)" class="t">6</text><path d="M367.10 459.40V462.40" stroke="#8c8c8c" stroke-width="0.8"/><path d="M387.47 459.40V462.40" stroke="#8c8c8c" stroke-width="0.8"/><path d="M407.83 459.40V462.40" stroke="#8c8c8c" stroke-width="0.8"/><path d="M428.20 459.40V462.40" stroke="#8c8c8c" stroke-width="0.8"/><path d="M448.57 459.40V462.40" stroke="#8c8c8c" stroke-width="0.8"/><path d="M468.93 459.40V462.40" stroke="#8c8c8c" stroke-width="0.8"/><path d="M489.30 459.40V462.40" stroke="#8c8c8c" stroke-width="0.8"/><text transform="translate(377.28 474.10) scale(0.81 1)" text-anchor="middle" class="x">O1</text><text transform="translate(397.65 474.10) scale(0.81 1)" text-anchor="middle" class="x">M1</text><text transform="translate(418.02 474.10) scale(0.81 1)" text-anchor="middle" class="x">O2</text><text transform="translate(438.38 474.10) scale(0.81 1)" text-anchor="middle" class="x">M2</text><text transform="translate(458.75 474.10) scale(0.81 1)" text-anchor="middle" class="x">O3</text><text transform="translate(479.12 474.10) scale(0.81 1)" text-anchor="middle" class="x">M3</text><text x="402.20" y="374.80" class="ti" textLength="49.50" lengthAdjust="spacingAndGlyphs">LOC103420802</text><path d="M377.28 439.91V448.91M375.88 439.91H378.68M375.88 448.91H378.68" stroke="#000" stroke-width="1"/><path d="M397.65 441.41V447.41M396.25 441.41H399.05M396.25 447.41H399.05" stroke="#000" stroke-width="1"/><path d="M418.02 441.91V446.91M416.62 441.91H419.42M416.62 446.91H419.42" stroke="#000" stroke-width="1"/><path d="M438.38 386.37V389.37M436.98 386.37H439.78M436.98 389.37H439.78" stroke="#000" stroke-width="1"/><path d="M458.75 440.95V446.95M457.35 440.95H460.15M457.35 446.95H460.15" stroke="#000" stroke-width="1"/><path d="M479.12 422.37V429.37M477.72 422.37H480.52M477.72 429.37H480.52" stroke="#000" stroke-width="1"/><path d="M377.28 444.41L397.65 444.41" stroke="#c0504d" stroke-width="1.9" fill="none"/><path d="M418.02 444.41L438.38 387.87" stroke="#c0504d" stroke-width="1.9" fill="none"/><path d="M458.75 443.95L479.12 425.87" stroke="#c0504d" stroke-width="1.9" fill="none"/><path d="M374.58 444.41L377.28 442.01L379.98 444.41L377.28 446.81Z" fill="#c0504d"/><path d="M394.95 444.41L397.65 442.01L400.35 444.41L397.65 446.81Z" fill="#c0504d"/><path d="M415.32 444.41L418.02 442.01L420.72 444.41L418.02 446.81Z" fill="#c0504d"/><path d="M435.68 387.87L438.38 385.47L441.08 387.87L438.38 390.27Z" fill="#c0504d"/><path d="M456.05 443.95L458.75 441.55L461.45 443.95L458.75 446.35Z" fill="#c0504d"/><path d="M476.42 425.87L479.12 423.47L481.82 425.87L479.12 428.27Z" fill="#c0504d"/></g><g><rect x="527.21" y="444.82" width="8.68" height="17.18" fill="#4f81bd"/><rect x="548.91" y="416.73" width="8.68" height="45.27" fill="#4f81bd"/><rect x="570.61" y="449.38" width="8.68" height="12.62" fill="#4f81bd"/><rect x="592.31" y="438.84" width="8.68" height="23.16" fill="#4f81bd"/><rect x="614.01" y="430.68" width="8.68" height="31.32" fill="#4f81bd"/><rect x="635.71" y="379.06" width="8.68" height="82.94" fill="#4f81bd"/><path d="M520.50 462.50V367.50H650.50V462.50Z" fill="none" stroke="#484848" stroke-width="1.1"/><path d="M518.20 462.00H520.70" stroke="#8c8c8c" stroke-width="0.8"/><text transform="translate(513.30 464.60) scale(0.86 1)" text-anchor="end" class="t">0</text><path d="M518.20 443.02H520.70" stroke="#8c8c8c" stroke-width="0.8"/><text transform="translate(513.30 445.62) scale(0.86 1)" text-anchor="end" class="t">20</text><path d="M518.20 424.04H520.70" stroke="#8c8c8c" stroke-width="0.8"/><text transform="translate(513.30 426.64) scale(0.86 1)" text-anchor="end" class="t">40</text><path d="M518.20 405.06H520.70" stroke="#8c8c8c" stroke-width="0.8"/><text transform="translate(513.30 407.66) scale(0.86 1)" text-anchor="end" class="t">60</text><path d="M518.20 386.08H520.70" stroke="#8c8c8c" stroke-width="0.8"/><text transform="translate(513.30 388.68) scale(0.86 1)" text-anchor="end" class="t">80</text><path d="M518.20 367.10H520.70" stroke="#8c8c8c" stroke-width="0.8"/><text transform="translate(513.30 369.70) scale(0.86 1)" text-anchor="end" class="t">100</text><path d="M650.90 462.00H653.40" stroke="#8c8c8c" stroke-width="0.8"/><text transform="translate(658.10 464.60) scale(0.86 1)" class="t">0</text><path d="M650.90 446.18H653.40" stroke="#8c8c8c" stroke-width="0.8"/><text transform="translate(658.10 448.78) scale(0.86 1)" class="t">1</text><path d="M650.90 430.37H653.40" stroke="#8c8c8c" stroke-width="0.8"/><text transform="translate(658.10 432.97) scale(0.86 1)" class="t">2</text><path d="M650.90 414.55H653.40" stroke="#8c8c8c" stroke-width="0.8"/><text transform="translate(658.10 417.15) scale(0.86 1)" class="t">3</text><path d="M650.90 398.73H653.40" stroke="#8c8c8c" stroke-width="0.8"/><text transform="translate(658.10 401.33) scale(0.86 1)" class="t">4</text><path d="M650.90 382.92H653.40" stroke="#8c8c8c" stroke-width="0.8"/><text transform="translate(658.10 385.52) scale(0.86 1)" class="t">5</text><path d="M650.90 367.10H653.40" stroke="#8c8c8c" stroke-width="0.8"/><text transform="translate(658.10 369.70) scale(0.86 1)" class="t">6</text><path d="M520.70 462.00V465.00" stroke="#8c8c8c" stroke-width="0.8"/><path d="M542.40 462.00V465.00" stroke="#8c8c8c" stroke-width="0.8"/><path d="M564.10 462.00V465.00" stroke="#8c8c8c" stroke-width="0.8"/><path d="M585.80 462.00V465.00" stroke="#8c8c8c" stroke-width="0.8"/><path d="M607.50 462.00V465.00" stroke="#8c8c8c" stroke-width="0.8"/><path d="M629.20 462.00V465.00" stroke="#8c8c8c" stroke-width="0.8"/><path d="M650.90 462.00V465.00" stroke="#8c8c8c" stroke-width="0.8"/><text transform="translate(531.55 476.70) scale(0.81 1)" text-anchor="middle" class="x">O1</text><text transform="translate(553.25 476.70) scale(0.81 1)" text-anchor="middle" class="x">M1</text><text transform="translate(574.95 476.70) scale(0.81 1)" text-anchor="middle" class="x">O2</text><text transform="translate(596.65 476.70) scale(0.81 1)" text-anchor="middle" class="x">M2</text><text transform="translate(618.35 476.70) scale(0.81 1)" text-anchor="middle" class="x">O3</text><text transform="translate(640.05 476.70) scale(0.81 1)" text-anchor="middle" class="x">M3</text><text x="557.80" y="375.20" class="ti" textLength="48.90" lengthAdjust="spacingAndGlyphs">LOC103455522</text><path d="M531.55 442.97V450.97M530.15 442.97H532.95M530.15 450.97H532.95" stroke="#000" stroke-width="1"/><path d="M553.25 397.18V402.18M551.85 397.18H554.65M551.85 402.18H554.65" stroke="#000" stroke-width="1"/><path d="M574.95 444.97V448.97M573.55 444.97H576.35M573.55 448.97H576.35" stroke="#000" stroke-width="1"/><path d="M596.65 423.31V427.31M595.25 423.31H598.05M595.25 427.31H598.05" stroke="#000" stroke-width="1"/><path d="M618.35 443.97V449.97M616.95 443.97H619.75M616.95 449.97H619.75" stroke="#000" stroke-width="1"/><path d="M640.05 380.13V384.13M638.65 380.13H641.45M638.65 384.13H641.45" stroke="#000" stroke-width="1"/><path d="M531.55 446.97L553.25 399.68" stroke="#c0504d" stroke-width="1.9" fill="none"/><path d="M574.95 446.97L596.65 425.31" stroke="#c0504d" stroke-width="1.9" fill="none"/><path d="M618.35 446.97L640.05 382.13" stroke="#c0504d" stroke-width="1.9" fill="none"/><path d="M528.85 446.97L531.55 444.57L534.25 446.97L531.55 449.37Z" fill="#c0504d"/><path d="M550.55 399.68L553.25 397.28L555.95 399.68L553.25 402.08Z" fill="#c0504d"/><path d="M572.25 446.97L574.95 444.57L577.65 446.97L574.95 449.37Z" fill="#c0504d"/><path d="M593.95 425.31L596.65 422.91L599.35 425.31L596.65 427.71Z" fill="#c0504d"/><path d="M615.65 446.97L618.35 444.57L621.05 446.97L618.35 449.37Z" fill="#c0504d"/><path d="M637.35 382.13L640.05 379.73L642.75 382.13L640.05 384.53Z" fill="#c0504d"/></g><g><rect x="47.30" y="520.78" width="8.14" height="51.62" fill="#4f81bd"/><rect x="67.66" y="511.58" width="8.14" height="60.82" fill="#4f81bd"/><rect x="88.00" y="571.19" width="8.14" height="1.21" fill="#4f81bd"/><rect x="108.36" y="567.80" width="8.14" height="4.60" fill="#4f81bd"/><rect x="128.71" y="571.70" width="8.14" height="0.70" fill="#4f81bd"/><rect x="149.06" y="570.21" width="8.14" height="2.19" fill="#4f81bd"/><path d="M41.50 572.50V479.50H163.50V572.50Z" fill="none" stroke="#484848" stroke-width="1.1"/><path d="M38.70 572.40H41.20" stroke="#8c8c8c" stroke-width="0.8"/><text transform="translate(33.80 575.00) scale(0.86 1)" text-anchor="end" class="t">0</text><path d="M38.70 549.15H41.20" stroke="#8c8c8c" stroke-width="0.8"/><text transform="translate(33.80 551.75) scale(0.86 1)" text-anchor="end" class="t">50</text><path d="M38.70 525.90H41.20" stroke="#8c8c8c" stroke-width="0.8"/><text transform="translate(33.80 528.50) scale(0.86 1)" text-anchor="end" class="t">100</text><path d="M38.70 502.65H41.20" stroke="#8c8c8c" stroke-width="0.8"/><text transform="translate(33.80 505.25) scale(0.86 1)" text-anchor="end" class="t">150</text><path d="M38.70 479.40H41.20" stroke="#8c8c8c" stroke-width="0.8"/><text transform="translate(33.80 482.00) scale(0.86 1)" text-anchor="end" class="t">200</text><path d="M163.30 572.40H165.80" stroke="#8c8c8c" stroke-width="0.8"/><text transform="translate(170.50 575.00) scale(0.86 1)" class="t">0</text><path d="M163.30 553.80H165.80" stroke="#8c8c8c" stroke-width="0.8"/><text transform="translate(170.50 556.40) scale(0.86 1)" class="t">0.5</text><path d="M163.30 535.20H165.80" stroke="#8c8c8c" stroke-width="0.8"/><text transform="translate(170.50 537.80) scale(0.86 1)" class="t">1</text><path d="M163.30 516.60H165.80" stroke="#8c8c8c" stroke-width="0.8"/><text transform="translate(170.50 519.20) scale(0.86 1)" class="t">1.5</text><path d="M163.30 498.00H165.80" stroke="#8c8c8c" stroke-width="0.8"/><text transform="translate(170.50 500.60) scale(0.86 1)" class="t">2</text><path d="M163.30 479.40H165.80" stroke="#8c8c8c" stroke-width="0.8"/><text transform="translate(170.50 482.00) scale(0.86 1)" class="t">2.5</text><path d="M41.20 572.40V575.40" stroke="#8c8c8c" stroke-width="0.8"/><path d="M61.55 572.40V575.40" stroke="#8c8c8c" stroke-width="0.8"/><path d="M81.90 572.40V575.40" stroke="#8c8c8c" stroke-width="0.8"/><path d="M102.25 572.40V575.40" stroke="#8c8c8c" stroke-width="0.8"/><path d="M122.60 572.40V575.40" stroke="#8c8c8c" stroke-width="0.8"/><path d="M142.95 572.40V575.40" stroke="#8c8c8c" stroke-width="0.8"/><path d="M163.30 572.40V575.40" stroke="#8c8c8c" stroke-width="0.8"/><text transform="translate(51.38 587.10) scale(0.81 1)" text-anchor="middle" class="x">O1</text><text transform="translate(71.73 587.10) scale(0.81 1)" text-anchor="middle" class="x">M1</text><text transform="translate(92.08 587.10) scale(0.81 1)" text-anchor="middle" class="x">O2</text><text transform="translate(112.43 587.10) scale(0.81 1)" text-anchor="middle" class="x">M2</text><text transform="translate(132.78 587.10) scale(0.81 1)" text-anchor="middle" class="x">O3</text><text transform="translate(153.12 587.10) scale(0.81 1)" text-anchor="middle" class="x">M3</text><text x="76.90" y="487.50" class="ti" textLength="49.70" lengthAdjust="spacingAndGlyphs">LOC103433222</text><path d="M51.38 526.17V544.97M49.98 526.17H52.77M49.98 544.97H52.77" stroke="#000" stroke-width="1"/><path d="M71.73 530.52V542.12M70.33 530.52H73.13M70.33 542.12H73.13" stroke="#000" stroke-width="1"/><path d="M92.08 529.20V541.20M90.67 529.20H93.48M90.67 541.20H93.48" stroke="#000" stroke-width="1"/><path d="M112.43 509.94V519.54M111.03 509.94H113.83M111.03 519.54H113.83" stroke="#000" stroke-width="1"/><path d="M132.78 528.40V542.00M131.38 528.40H134.18M131.38 542.00H134.18" stroke="#000" stroke-width="1"/><path d="M153.12 500.44V515.64M151.72 500.44H154.53M151.72 515.64H154.53" stroke="#000" stroke-width="1"/><path d="M51.38 535.57L71.73 536.32" stroke="#c0504d" stroke-width="1.9" fill="none"/><path d="M92.08 535.20L112.43 514.74" stroke="#c0504d" stroke-width="1.9" fill="none"/><path d="M132.78 535.20L153.12 508.04" stroke="#c0504d" stroke-width="1.9" fill="none"/><path d="M48.67 535.57L51.38 533.17L54.08 535.57L51.38 537.97Z" fill="#c0504d"/><path d="M69.03 536.32L71.73 533.92L74.43 536.32L71.73 538.72Z" fill="#c0504d"/><path d="M89.38 535.20L92.08 532.80L94.78 535.20L92.08 537.60Z" fill="#c0504d"/><path d="M109.73 514.74L112.43 512.34L115.13 514.74L112.43 517.14Z" fill="#c0504d"/><path d="M130.08 535.20L132.78 532.80L135.47 535.20L132.78 537.60Z" fill="#c0504d"/><path d="M150.43 508.04L153.12 505.64L155.82 508.04L153.12 510.44Z" fill="#c0504d"/></g><g><rect x="210.69" y="560.22" width="8.25" height="12.18" fill="#4f81bd"/><rect x="231.32" y="544.08" width="8.25" height="28.32" fill="#4f81bd"/><rect x="251.96" y="570.40" width="8.25" height="2.00" fill="#4f81bd"/><rect x="272.59" y="567.38" width="8.25" height="5.02" fill="#4f81bd"/><rect x="293.22" y="564.40" width="8.25" height="8.00" fill="#4f81bd"/><rect x="313.86" y="562.82" width="8.25" height="9.58" fill="#4f81bd"/><path d="M204.50 572.50V479.50H328.50V572.50Z" fill="none" stroke="#484848" stroke-width="1.1"/><path d="M202.00 572.40H204.50" stroke="#8c8c8c" stroke-width="0.8"/><text transform="translate(197.10 575.00) scale(0.86 1)" text-anchor="end" class="t">0</text><path d="M202.00 549.15H204.50" stroke="#8c8c8c" stroke-width="0.8"/><text transform="translate(197.10 551.75) scale(0.86 1)" text-anchor="end" class="t">50</text><path d="M202.00 525.90H204.50" stroke="#8c8c8c" stroke-width="0.8"/><text transform="translate(197.10 528.50) scale(0.86 1)" text-anchor="end" class="t">100</text><path d="M202.00 502.65H204.50" stroke="#8c8c8c" stroke-width="0.8"/><text transform="translate(197.10 505.25) scale(0.86 1)" text-anchor="end" class="t">150</text><path d="M202.00 479.40H204.50" stroke="#8c8c8c" stroke-width="0.8"/><text transform="translate(197.10 482.00) scale(0.86 1)" text-anchor="end" class="t">200</text><path d="M328.30 572.40H330.80" stroke="#8c8c8c" stroke-width="0.8"/><text transform="translate(335.50 575.00) scale(0.86 1)" class="t">0</text><path d="M328.30 559.11H330.80" stroke="#8c8c8c" stroke-width="0.8"/><text transform="translate(335.50 561.71) scale(0.86 1)" class="t">0.5</text><path d="M328.30 545.83H330.80" stroke="#8c8c8c" stroke-width="0.8"/><text transform="translate(335.50 548.43) scale(0.86 1)" class="t">1</text><path d="M328.30 532.54H330.80" stroke="#8c8c8c" stroke-width="0.8"/><text transform="translate(335.50 535.14) scale(0.86 1)" class="t">1.5</text><path d="M328.30 519.26H330.80" stroke="#8c8c8c" stroke-width="0.8"/><text transform="translate(335.50 521.86) scale(0.86 1)" class="t">2</text><path d="M328.30 505.97H330.80" stroke="#8c8c8c" stroke-width="0.8"/><text transform="translate(335.50 508.57) scale(0.86 1)" class="t">2.5</text><path d="M328.30 492.69H330.80" stroke="#8c8c8c" stroke-width="0.8"/><text transform="translate(335.50 495.29) scale(0.86 1)" class="t">3</text><path d="M328.30 479.40H330.80" stroke="#8c8c8c" stroke-width="0.8"/><text transform="translate(335.50 482.00) scale(0.86 1)" class="t">3.5</text><path d="M204.50 572.40V575.40" stroke="#8c8c8c" stroke-width="0.8"/><path d="M225.13 572.40V575.40" stroke="#8c8c8c" stroke-width="0.8"/><path d="M245.77 572.40V575.40" stroke="#8c8c8c" stroke-width="0.8"/><path d="M266.40 572.40V575.40" stroke="#8c8c8c" stroke-width="0.8"/><path d="M287.03 572.40V575.40" stroke="#8c8c8c" stroke-width="0.8"/><path d="M307.67 572.40V575.40" stroke="#8c8c8c" stroke-width="0.8"/><path d="M328.30 572.40V575.40" stroke="#8c8c8c" stroke-width="0.8"/><text transform="translate(214.82 587.10) scale(0.81 1)" text-anchor="middle" class="x">O1</text><text transform="translate(235.45 587.10) scale(0.81 1)" text-anchor="middle" class="x">M1</text><text transform="translate(256.08 587.10) scale(0.81 1)" text-anchor="middle" class="x">O2</text><text transform="translate(276.72 587.10) scale(0.81 1)" text-anchor="middle" class="x">M2</text><text transform="translate(297.35 587.10) scale(0.81 1)" text-anchor="middle" class="x">O3</text><text transform="translate(317.98 587.10) scale(0.81 1)" text-anchor="middle" class="x">M3</text><text x="237.90" y="487.50" class="ti" textLength="49.20" lengthAdjust="spacingAndGlyphs">LOC103430265</text><path d="M214.82 539.33V552.33M213.42 539.33H216.22M213.42 552.33H216.22" stroke="#000" stroke-width="1"/><path d="M235.45 494.50V501.50M234.05 494.50H236.85M234.05 501.50H236.85" stroke="#000" stroke-width="1"/><path d="M256.08 541.83V549.83M254.68 541.83H257.48M254.68 549.83H257.48" stroke="#000" stroke-width="1"/><path d="M276.72 506.52V513.92M275.32 506.52H278.12M275.32 513.92H278.12" stroke="#000" stroke-width="1"/><path d="M297.35 540.83V550.83M295.95 540.83H298.75M295.95 550.83H298.75" stroke="#000" stroke-width="1"/><path d="M317.98 537.34V547.94M316.58 537.34H319.38M316.58 547.94H319.38" stroke="#000" stroke-width="1"/><path d="M214.82 545.83L235.45 498.00" stroke="#c0504d" stroke-width="1.9" fill="none"/><path d="M256.08 545.83L276.72 510.22" stroke="#c0504d" stroke-width="1.9" fill="none"/><path d="M297.35 545.83L317.98 542.64" stroke="#c0504d" stroke-width="1.9" fill="none"/><path d="M212.12 545.83L214.82 543.43L217.52 545.83L214.82 548.23Z" fill="#c0504d"/><path d="M232.75 498.00L235.45 495.60L238.15 498.00L235.45 500.40Z" fill="#c0504d"/><path d="M253.38 545.83L256.08 543.43L258.78 545.83L256.08 548.23Z" fill="#c0504d"/><path d="M274.02 510.22L276.72 507.82L279.42 510.22L276.72 512.62Z" fill="#c0504d"/><path d="M294.65 545.83L297.35 543.43L300.05 545.83L297.35 548.23Z" fill="#c0504d"/><path d="M315.28 542.64L317.98 540.24L320.68 542.64L317.98 545.04Z" fill="#c0504d"/></g><g><rect x="373.41" y="543.66" width="7.88" height="28.74" fill="#4f81bd"/><rect x="393.11" y="564.77" width="7.88" height="7.63" fill="#4f81bd"/><rect x="412.81" y="549.89" width="7.88" height="22.51" fill="#4f81bd"/><rect x="432.51" y="567.38" width="7.88" height="5.02" fill="#4f81bd"/><rect x="452.21" y="509.81" width="7.88" height="62.59" fill="#4f81bd"/><rect x="471.91" y="517.62" width="7.88" height="54.78" fill="#4f81bd"/><path d="M367.50 572.50V479.50H485.50V572.50Z" fill="none" stroke="#484848" stroke-width="1.1"/><path d="M365.00 572.40H367.50" stroke="#8c8c8c" stroke-width="0.8"/><text transform="translate(360.10 575.00) scale(0.86 1)" text-anchor="end" class="t">0</text><path d="M365.00 553.80H367.50" stroke="#8c8c8c" stroke-width="0.8"/><text transform="translate(360.10 556.40) scale(0.86 1)" text-anchor="end" class="t">20</text><path d="M365.00 535.20H367.50" stroke="#8c8c8c" stroke-width="0.8"/><text transform="translate(360.10 537.80) scale(0.86 1)" text-anchor="end" class="t">40</text><path d="M365.00 516.60H367.50" stroke="#8c8c8c" stroke-width="0.8"/><text transform="translate(360.10 519.20) scale(0.86 1)" text-anchor="end" class="t">60</text><path d="M365.00 498.00H367.50" stroke="#8c8c8c" stroke-width="0.8"/><text transform="translate(360.10 500.60) scale(0.86 1)" text-anchor="end" class="t">80</text><path d="M365.00 479.40H367.50" stroke="#8c8c8c" stroke-width="0.8"/><text transform="translate(360.10 482.00) scale(0.86 1)" text-anchor="end" class="t">100</text><path d="M485.70 572.40H488.20" stroke="#8c8c8c" stroke-width="0.8"/><text transform="translate(492.90 575.00) scale(0.86 1)" class="t">0</text><path d="M485.70 549.15H488.20" stroke="#8c8c8c" stroke-width="0.8"/><text transform="translate(492.90 551.75) scale(0.86 1)" class="t">0.5</text><path d="M485.70 525.90H488.20" stroke="#8c8c8c" stroke-width="0.8"/><text transform="translate(492.90 528.50) scale(0.86 1)" class="t">1</text><path d="M485.70 502.65H488.20" stroke="#8c8c8c" stroke-width="0.8"/><text transform="translate(492.90 505.25) scale(0.86 1)" class="t">1.5</text><path d="M485.70 479.40H488.20" stroke="#8c8c8c" stroke-width="0.8"/><text transform="translate(492.90 482.00) scale(0.86 1)" class="t">2</text><path d="M367.50 572.40V575.40" stroke="#8c8c8c" stroke-width="0.8"/><path d="M387.20 572.40V575.40" stroke="#8c8c8c" stroke-width="0.8"/><path d="M406.90 572.40V575.40" stroke="#8c8c8c" stroke-width="0.8"/><path d="M426.60 572.40V575.40" stroke="#8c8c8c" stroke-width="0.8"/><path d="M446.30 572.40V575.40" stroke="#8c8c8c" stroke-width="0.8"/><path d="M466.00 572.40V575.40" stroke="#8c8c8c" stroke-width="0.8"/><path d="M485.70 572.40V575.40" stroke="#8c8c8c" stroke-width="0.8"/><text transform="translate(377.35 587.10) scale(0.81 1)" text-anchor="middle" class="x">O1</text><text transform="translate(397.05 587.10) scale(0.81 1)" text-anchor="middle" class="x">M1</text><text transform="translate(416.75 587.10) scale(0.81 1)" text-anchor="middle" class="x">O2</text><text transform="translate(436.45 587.10) scale(0.81 1)" text-anchor="middle" class="x">M2</text><text transform="translate(456.15 587.10) scale(0.81 1)" text-anchor="middle" class="x">O3</text><text transform="translate(475.85 587.10) scale(0.81 1)" text-anchor="middle" class="x">M3</text><text x="403.30" y="487.50" class="ti" textLength="49.20" lengthAdjust="spacingAndGlyphs">LOC103444963</text><path d="M377.35 522.40V530.80M375.95 522.40H378.75M375.95 530.80H378.75" stroke="#000" stroke-width="1"/><path d="M397.05 563.92V566.92M395.65 563.92H398.45M395.65 566.92H398.45" stroke="#000" stroke-width="1"/><path d="M416.75 524.40V527.40M415.35 524.40H418.15M415.35 527.40H418.15" stroke="#000" stroke-width="1"/><path d="M436.45 561.96V567.96M435.05 561.96H437.85M435.05 567.96H437.85" stroke="#000" stroke-width="1"/><path d="M456.15 524.40V527.40M454.75 524.40H457.55M454.75 527.40H457.55" stroke="#000" stroke-width="1"/><path d="M475.85 531.90V539.90M474.45 531.90H477.25M474.45 539.90H477.25" stroke="#000" stroke-width="1"/><path d="M377.35 526.60L397.05 565.42" stroke="#c0504d" stroke-width="1.9" fill="none"/><path d="M416.75 525.90L436.45 564.96" stroke="#c0504d" stroke-width="1.9" fill="none"/><path d="M456.15 525.90L475.85 535.90" stroke="#c0504d" stroke-width="1.9" fill="none"/><path d="M374.65 526.60L377.35 524.20L380.05 526.60L377.35 529.00Z" fill="#c0504d"/><path d="M394.35 565.42L397.05 563.02L399.75 565.42L397.05 567.82Z" fill="#c0504d"/><path d="M414.05 525.90L416.75 523.50L419.45 525.90L416.75 528.30Z" fill="#c0504d"/><path d="M433.75 564.96L436.45 562.56L439.15 564.96L436.45 567.36Z" fill="#c0504d"/><path d="M453.45 525.90L456.15 523.50L458.85 525.90L456.15 528.30Z" fill="#c0504d"/><path d="M473.15 535.90L475.85 533.50L478.55 535.90L475.85 538.30Z" fill="#c0504d"/></g><g><rect x="528.09" y="536.93" width="8.79" height="35.47" fill="#4f81bd"/><rect x="550.06" y="489.76" width="8.79" height="82.64" fill="#4f81bd"/><rect x="572.02" y="560.84" width="8.79" height="11.56" fill="#4f81bd"/><rect x="593.99" y="515.80" width="8.79" height="56.60" fill="#4f81bd"/><rect x="615.96" y="565.36" width="8.79" height="7.04" fill="#4f81bd"/><rect x="637.92" y="544.37" width="8.79" height="28.03" fill="#4f81bd"/><path d="M521.50 572.50V479.50H653.50V572.50Z" fill="none" stroke="#484848" stroke-width="1.1"/><path d="M519.00 572.40H521.50" stroke="#8c8c8c" stroke-width="0.8"/><text transform="translate(514.10 575.00) scale(0.86 1)" text-anchor="end" class="t">0</text><path d="M519.00 559.11H521.50" stroke="#8c8c8c" stroke-width="0.8"/><text transform="translate(514.10 561.71) scale(0.86 1)" text-anchor="end" class="t">10</text><path d="M519.00 545.83H521.50" stroke="#8c8c8c" stroke-width="0.8"/><text transform="translate(514.10 548.43) scale(0.86 1)" text-anchor="end" class="t">20</text><path d="M519.00 532.54H521.50" stroke="#8c8c8c" stroke-width="0.8"/><text transform="translate(514.10 535.14) scale(0.86 1)" text-anchor="end" class="t">30</text><path d="M519.00 519.26H521.50" stroke="#8c8c8c" stroke-width="0.8"/><text transform="translate(514.10 521.86) scale(0.86 1)" text-anchor="end" class="t">40</text><path d="M519.00 505.97H521.50" stroke="#8c8c8c" stroke-width="0.8"/><text transform="translate(514.10 508.57) scale(0.86 1)" text-anchor="end" class="t">50</text><path d="M519.00 492.69H521.50" stroke="#8c8c8c" stroke-width="0.8"/><text transform="translate(514.10 495.29) scale(0.86 1)" text-anchor="end" class="t">60</text><path d="M519.00 479.40H521.50" stroke="#8c8c8c" stroke-width="0.8"/><text transform="translate(514.10 482.00) scale(0.86 1)" text-anchor="end" class="t">70</text><path d="M653.30 572.40H655.80" stroke="#8c8c8c" stroke-width="0.8"/><text transform="translate(660.50 575.00) scale(0.86 1)" class="t">0</text><path d="M653.30 549.15H655.80" stroke="#8c8c8c" stroke-width="0.8"/><text transform="translate(660.50 551.75) scale(0.86 1)" class="t">2</text><path d="M653.30 525.90H655.80" stroke="#8c8c8c" stroke-width="0.8"/><text transform="translate(660.50 528.50) scale(0.86 1)" class="t">4</text><path d="M653.30 502.65H655.80" stroke="#8c8c8c" stroke-width="0.8"/><text transform="translate(660.50 505.25) scale(0.86 1)" class="t">6</text><path d="M653.30 479.40H655.80" stroke="#8c8c8c" stroke-width="0.8"/><text transform="translate(660.50 482.00) scale(0.86 1)" class="t">8</text><path d="M521.50 572.40V575.40" stroke="#8c8c8c" stroke-width="0.8"/><path d="M543.47 572.40V575.40" stroke="#8c8c8c" stroke-width="0.8"/><path d="M565.43 572.40V575.40" stroke="#8c8c8c" stroke-width="0.8"/><path d="M587.40 572.40V575.40" stroke="#8c8c8c" stroke-width="0.8"/><path d="M609.37 572.40V575.40" stroke="#8c8c8c" stroke-width="0.8"/><path d="M631.33 572.40V575.40" stroke="#8c8c8c" stroke-width="0.8"/><path d="M653.30 572.40V575.40" stroke="#8c8c8c" stroke-width="0.8"/><text transform="translate(532.48 587.10) scale(0.81 1)" text-anchor="middle" class="x">O1</text><text transform="translate(554.45 587.10) scale(0.81 1)" text-anchor="middle" class="x">M1</text><text transform="translate(576.42 587.10) scale(0.81 1)" text-anchor="middle" class="x">O2</text><text transform="translate(598.38 587.10) scale(0.81 1)" text-anchor="middle" class="x">M2</text><text transform="translate(620.35 587.10) scale(0.81 1)" text-anchor="middle" class="x">O3</text><text transform="translate(642.32 587.10) scale(0.81 1)" text-anchor="middle" class="x">M3</text><text x="561.80" y="487.50" class="ti" textLength="49.30" lengthAdjust="spacingAndGlyphs">LOC103437327</text><path d="M532.48 558.36V564.36M531.08 558.36H533.88M531.08 564.36H533.88" stroke="#000" stroke-width="1"/><path d="M554.45 503.59V506.59M553.05 503.59H555.85M553.05 506.59H555.85" stroke="#000" stroke-width="1"/><path d="M576.42 559.86V562.86M575.02 559.86H577.82M575.02 562.86H577.82" stroke="#000" stroke-width="1"/><path d="M598.38 493.25V496.25M596.98 493.25H599.78M596.98 496.25H599.78" stroke="#000" stroke-width="1"/><path d="M620.35 559.27V562.27M618.95 559.27H621.75M618.95 562.27H621.75" stroke="#000" stroke-width="1"/><path d="M642.32 525.73V530.73M640.92 525.73H643.72M640.92 530.73H643.72" stroke="#000" stroke-width="1"/><path d="M532.48 561.36L554.45 505.09" stroke="#c0504d" stroke-width="1.9" fill="none"/><path d="M576.42 561.36L598.38 494.75" stroke="#c0504d" stroke-width="1.9" fill="none"/><path d="M620.35 560.77L642.32 528.23" stroke="#c0504d" stroke-width="1.9" fill="none"/><path d="M529.78 561.36L532.48 558.96L535.18 561.36L532.48 563.76Z" fill="#c0504d"/><path d="M551.75 505.09L554.45 502.69L557.15 505.09L554.45 507.49Z" fill="#c0504d"/><path d="M573.72 561.36L576.42 558.96L579.12 561.36L576.42 563.76Z" fill="#c0504d"/><path d="M595.68 494.75L598.38 492.35L601.08 494.75L598.38 497.14Z" fill="#c0504d"/><path d="M617.65 560.77L620.35 558.38L623.05 560.77L620.35 563.17Z" fill="#c0504d"/><path d="M639.62 528.23L642.32 525.83L645.02 528.23L642.32 530.62Z" fill="#c0504d"/></g><text transform="translate(6.2 42.10) rotate(90)" text-anchor="middle" y="3.3" class="yl" textLength="26.4" lengthAdjust="spacingAndGlyphs">FPKM</text><text transform="translate(6.2 161.60) rotate(90)" text-anchor="middle" y="3.3" class="yl" textLength="26.4" lengthAdjust="spacingAndGlyphs">FPKM</text><text transform="translate(6.2 279.20) rotate(90)" text-anchor="middle" y="3.3" class="yl" textLength="26.4" lengthAdjust="spacingAndGlyphs">FPKM</text><text transform="translate(6.2 394.20) rotate(90)" text-anchor="middle" y="3.3" class="yl" textLength="26.4" lengthAdjust="spacingAndGlyphs">FPKM</text><text transform="translate(6.2 515.20) rotate(90)" text-anchor="middle" y="3.3" class="yl" textLength="26.4" lengthAdjust="spacingAndGlyphs">FPKM</text><text transform="translate(679.4 54.40) rotate(90)" text-anchor="middle" y="3.3" class="yl" textLength="93.6" lengthAdjust="spacingAndGlyphs">Relative  Expression</text><text transform="translate(679.4 175.80) rotate(90)" text-anchor="middle" y="3.3" class="yl" textLength="93.6" lengthAdjust="spacingAndGlyphs">Relative  Expression</text><text transform="translate(679.4 297.00) rotate(90)" text-anchor="middle" y="3.3" class="yl" textLength="93.6" lengthAdjust="spacingAndGlyphs">Relative  Expression</text><text transform="translate(679.4 417.50) rotate(90)" text-anchor="middle" y="3.3" class="yl" textLength="93.6" lengthAdjust="spacingAndGlyphs">Relative  Expression</text><text transform="translate(679.4 530.50) rotate(90)" text-anchor="middle" y="3.3" class="yl" textLength="93.6" lengthAdjust="spacingAndGlyphs">Relative  Expression</text></svg></body></html>
